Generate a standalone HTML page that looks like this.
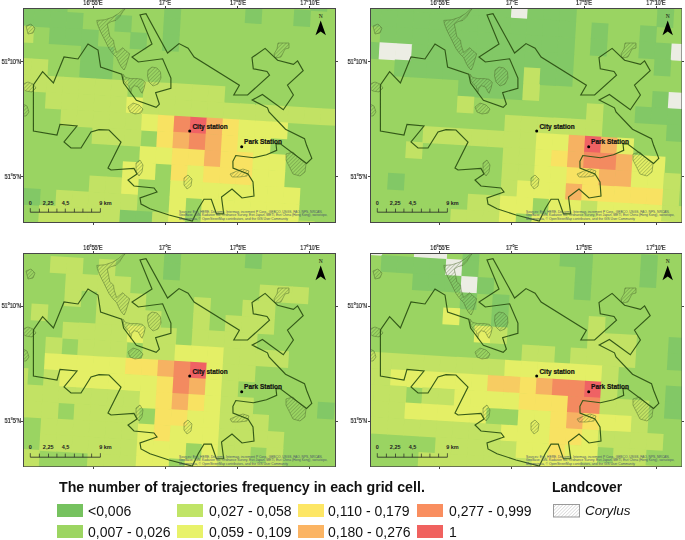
<!DOCTYPE html>
<html><head><meta charset="utf-8"><style>
html,body{margin:0;padding:0;background:#fff;width:685px;height:540px;overflow:hidden;position:relative;font-family:"Liberation Sans",sans-serif}
.tl,.lt,.lx{will-change:transform}
.map{position:absolute;overflow:hidden}
.tk{position:absolute;background:#444}
.tl{position:absolute;font-size:6.4px;line-height:8px;color:#1a1a1a;white-space:nowrap;-webkit-text-stroke:0.2px #1a1a1a}
.lt{position:absolute;font-size:13px;font-weight:bold;color:#111;white-space:nowrap;line-height:16px}
.lx{position:absolute;font-size:14px;color:#111;white-space:nowrap;line-height:16px}
.sw{position:absolute;width:26px;height:12.8px}
</style></head><body>
<div class="map" style="left:23px;top:8px;width:313px;height:215px"><svg width="313" height="215" viewBox="0 0 313 215" style="position:absolute;left:0;top:0"><rect x="0" y="0" width="313" height="215" fill="#9ad462"/>
<g transform="translate(151.6,108.0) rotate(3.39)">
<rect x="129.30" y="-129.90" width="16.80" height="16.80" fill="#82c866"/>
<rect x="-178.50" y="-113.70" width="16.80" height="16.80" fill="#82c866"/>
<rect x="-162.30" y="-113.70" width="16.80" height="16.80" fill="#82c866"/>
<rect x="-146.10" y="-113.70" width="16.80" height="16.80" fill="#82c866"/>
<rect x="-129.90" y="-113.70" width="16.80" height="16.80" fill="#82c866"/>
<rect x="-16.50" y="-113.70" width="16.80" height="16.80" fill="#82c866"/>
<rect x="64.50" y="-113.70" width="16.80" height="16.80" fill="#82c866"/>
<rect x="113.10" y="-113.70" width="16.80" height="16.80" fill="#82c866"/>
<rect x="-178.50" y="-97.50" width="16.80" height="16.80" fill="#82c866"/>
<rect x="-162.30" y="-97.50" width="16.80" height="16.80" fill="#82c866"/>
<rect x="-146.10" y="-97.50" width="16.80" height="16.80" fill="#82c866"/>
<rect x="-129.90" y="-97.50" width="16.80" height="16.80" fill="#82c866"/>
<rect x="-113.70" y="-97.50" width="16.80" height="16.80" fill="#82c866"/>
<rect x="-65.10" y="-97.50" width="16.80" height="16.80" fill="#82c866"/>
<rect x="-16.50" y="-97.50" width="16.80" height="16.80" fill="#82c866"/>
<rect x="-178.50" y="-81.30" width="16.80" height="16.80" fill="#c2e264"/>
<rect x="-162.30" y="-81.30" width="16.80" height="16.80" fill="#c2e264"/>
<rect x="-129.90" y="-81.30" width="16.80" height="16.80" fill="#82c866"/>
<rect x="-113.70" y="-81.30" width="16.80" height="16.80" fill="#82c866"/>
<rect x="-97.50" y="-81.30" width="16.80" height="16.80" fill="#82c866"/>
<rect x="-48.90" y="-81.30" width="16.80" height="16.80" fill="#82c866"/>
<rect x="-16.50" y="-81.30" width="16.80" height="16.80" fill="#82c866"/>
<rect x="-97.50" y="-65.10" width="16.80" height="16.80" fill="#82c866"/>
<rect x="-81.30" y="-65.10" width="16.80" height="16.80" fill="#82c866"/>
<rect x="-178.50" y="-48.90" width="16.80" height="16.80" fill="#c2e264"/>
<rect x="-162.30" y="-48.90" width="16.80" height="16.80" fill="#c2e264"/>
<rect x="-146.10" y="-48.90" width="16.80" height="16.80" fill="#c2e264"/>
<rect x="-97.50" y="-48.90" width="16.80" height="16.80" fill="#82c866"/>
<rect x="-81.30" y="-48.90" width="16.80" height="16.80" fill="#82c866"/>
<rect x="-178.50" y="-32.70" width="16.80" height="16.80" fill="#c2e264"/>
<rect x="-162.30" y="-32.70" width="16.80" height="16.80" fill="#c2e264"/>
<rect x="-146.10" y="-32.70" width="16.80" height="16.80" fill="#c2e264"/>
<rect x="-129.90" y="-32.70" width="16.80" height="16.80" fill="#c2e264"/>
<rect x="-113.70" y="-32.70" width="16.80" height="16.80" fill="#c2e264"/>
<rect x="-97.50" y="-32.70" width="16.80" height="16.80" fill="#c2e264"/>
<rect x="-81.30" y="-32.70" width="16.80" height="16.80" fill="#c2e264"/>
<rect x="-65.10" y="-32.70" width="16.80" height="16.80" fill="#c2e264"/>
<rect x="-32.70" y="-32.70" width="16.80" height="16.80" fill="#c2e264"/>
<rect x="-16.50" y="-32.70" width="16.80" height="16.80" fill="#c2e264"/>
<rect x="-0.30" y="-32.70" width="16.80" height="16.80" fill="#c2e264"/>
<rect x="15.90" y="-32.70" width="16.80" height="16.80" fill="#c2e264"/>
<rect x="32.10" y="-32.70" width="16.80" height="16.80" fill="#c2e264"/>
<rect x="-129.90" y="-16.50" width="16.80" height="16.80" fill="#c2e264"/>
<rect x="-113.70" y="-16.50" width="16.80" height="16.80" fill="#c2e264"/>
<rect x="-97.50" y="-16.50" width="16.80" height="16.80" fill="#c2e264"/>
<rect x="-81.30" y="-16.50" width="16.80" height="16.80" fill="#c2e264"/>
<rect x="-65.10" y="-16.50" width="16.80" height="16.80" fill="#c2e264"/>
<rect x="-48.90" y="-16.50" width="16.80" height="16.80" fill="#e4ef66"/>
<rect x="-32.70" y="-16.50" width="16.80" height="16.80" fill="#c2e264"/>
<rect x="-16.50" y="-16.50" width="16.80" height="16.80" fill="#c2e264"/>
<rect x="-0.30" y="-16.50" width="16.80" height="16.80" fill="#c2e264"/>
<rect x="15.90" y="-16.50" width="16.80" height="16.80" fill="#c2e264"/>
<rect x="32.10" y="-16.50" width="16.80" height="16.80" fill="#c2e264"/>
<rect x="48.30" y="-16.50" width="16.80" height="16.80" fill="#c2e264"/>
<rect x="64.50" y="-16.50" width="16.80" height="16.80" fill="#c2e264"/>
<rect x="80.70" y="-16.50" width="16.80" height="16.80" fill="#c2e264"/>
<rect x="96.90" y="-16.50" width="16.80" height="16.80" fill="#c2e264"/>
<rect x="113.10" y="-16.50" width="16.80" height="16.80" fill="#c2e264"/>
<rect x="129.30" y="-16.50" width="16.80" height="16.80" fill="#c2e264"/>
<rect x="145.50" y="-16.50" width="16.80" height="16.80" fill="#c2e264"/>
<rect x="161.70" y="-16.50" width="16.80" height="16.80" fill="#c2e264"/>
<rect x="-113.70" y="-0.30" width="16.80" height="16.80" fill="#c2e264"/>
<rect x="-97.50" y="-0.30" width="16.80" height="16.80" fill="#c2e264"/>
<rect x="-81.30" y="-0.30" width="16.80" height="16.80" fill="#c2e264"/>
<rect x="-65.10" y="-0.30" width="16.80" height="16.80" fill="#c2e264"/>
<rect x="-48.90" y="-0.30" width="16.80" height="16.80" fill="#c2e264"/>
<rect x="-32.70" y="-0.30" width="16.80" height="16.80" fill="#e4ef66"/>
<rect x="-16.50" y="-0.30" width="16.80" height="16.80" fill="#f8e262"/>
<rect x="-0.30" y="-0.30" width="16.80" height="16.80" fill="#f38a60"/>
<rect x="15.90" y="-0.30" width="16.80" height="16.80" fill="#ef6264"/>
<rect x="32.10" y="-0.30" width="16.80" height="16.80" fill="#f6b262"/>
<rect x="48.30" y="-0.30" width="16.80" height="16.80" fill="#f8e262"/>
<rect x="64.50" y="-0.30" width="16.80" height="16.80" fill="#e4ef66"/>
<rect x="80.70" y="-0.30" width="16.80" height="16.80" fill="#e4ef66"/>
<rect x="96.90" y="-0.30" width="16.80" height="16.80" fill="#e4ef66"/>
<rect x="-81.30" y="15.90" width="16.80" height="16.80" fill="#c2e264"/>
<rect x="-65.10" y="15.90" width="16.80" height="16.80" fill="#c2e264"/>
<rect x="-48.90" y="15.90" width="16.80" height="16.80" fill="#c2e264"/>
<rect x="-16.50" y="15.90" width="16.80" height="16.80" fill="#f8e262"/>
<rect x="-0.30" y="15.90" width="16.80" height="16.80" fill="#f6b262"/>
<rect x="15.90" y="15.90" width="16.80" height="16.80" fill="#f38a60"/>
<rect x="32.10" y="15.90" width="16.80" height="16.80" fill="#f6b262"/>
<rect x="48.30" y="15.90" width="16.80" height="16.80" fill="#f8e262"/>
<rect x="64.50" y="15.90" width="16.80" height="16.80" fill="#e4ef66"/>
<rect x="80.70" y="15.90" width="16.80" height="16.80" fill="#e4ef66"/>
<rect x="-32.70" y="32.10" width="16.80" height="16.80" fill="#e4ef66"/>
<rect x="-16.50" y="32.10" width="16.80" height="16.80" fill="#e4ef66"/>
<rect x="-0.30" y="32.10" width="16.80" height="16.80" fill="#f8e262"/>
<rect x="15.90" y="32.10" width="16.80" height="16.80" fill="#f8e262"/>
<rect x="32.10" y="32.10" width="16.80" height="16.80" fill="#f6b262"/>
<rect x="48.30" y="32.10" width="16.80" height="16.80" fill="#f8e262"/>
<rect x="64.50" y="32.10" width="16.80" height="16.80" fill="#f8e262"/>
<rect x="80.70" y="32.10" width="16.80" height="16.80" fill="#e4ef66"/>
<rect x="96.90" y="32.10" width="16.80" height="16.80" fill="#e4ef66"/>
<rect x="-48.90" y="48.30" width="16.80" height="16.80" fill="#e4ef66"/>
<rect x="-32.70" y="48.30" width="16.80" height="16.80" fill="#e4ef66"/>
<rect x="-0.30" y="48.30" width="16.80" height="16.80" fill="#f8e262"/>
<rect x="15.90" y="48.30" width="16.80" height="16.80" fill="#e4ef66"/>
<rect x="32.10" y="48.30" width="16.80" height="16.80" fill="#f8e262"/>
<rect x="48.30" y="48.30" width="16.80" height="16.80" fill="#f8e262"/>
<rect x="64.50" y="48.30" width="16.80" height="16.80" fill="#f8e262"/>
<rect x="80.70" y="48.30" width="16.80" height="16.80" fill="#e4ef66"/>
<rect x="96.90" y="48.30" width="16.80" height="16.80" fill="#e4ef66"/>
<rect x="-81.30" y="64.50" width="16.80" height="16.80" fill="#c2e264"/>
<rect x="-65.10" y="64.50" width="16.80" height="16.80" fill="#c2e264"/>
<rect x="-48.90" y="64.50" width="16.80" height="16.80" fill="#e4ef66"/>
<rect x="-0.30" y="64.50" width="16.80" height="16.80" fill="#e4ef66"/>
<rect x="15.90" y="64.50" width="16.80" height="16.80" fill="#e4ef66"/>
<rect x="32.10" y="64.50" width="16.80" height="16.80" fill="#e4ef66"/>
<rect x="48.30" y="64.50" width="16.80" height="16.80" fill="#e4ef66"/>
<rect x="64.50" y="64.50" width="16.80" height="16.80" fill="#e4ef66"/>
<rect x="80.70" y="64.50" width="16.80" height="16.80" fill="#e4ef66"/>
<rect x="96.90" y="64.50" width="16.80" height="16.80" fill="#e4ef66"/>
<rect x="113.10" y="64.50" width="16.80" height="16.80" fill="#e4ef66"/>
<rect x="-178.50" y="80.70" width="16.80" height="16.80" fill="#82c866"/>
<rect x="-162.30" y="80.70" width="16.80" height="16.80" fill="#82c866"/>
<rect x="-146.10" y="80.70" width="16.80" height="16.80" fill="#82c866"/>
<rect x="-113.70" y="80.70" width="16.80" height="16.80" fill="#c2e264"/>
<rect x="-97.50" y="80.70" width="16.80" height="16.80" fill="#c2e264"/>
<rect x="-81.30" y="80.70" width="16.80" height="16.80" fill="#c2e264"/>
<rect x="-65.10" y="80.70" width="16.80" height="16.80" fill="#c2e264"/>
<rect x="-48.90" y="80.70" width="16.80" height="16.80" fill="#c2e264"/>
<rect x="-0.30" y="80.70" width="16.80" height="16.80" fill="#e4ef66"/>
<rect x="32.10" y="80.70" width="16.80" height="16.80" fill="#e4ef66"/>
<rect x="48.30" y="80.70" width="16.80" height="16.80" fill="#e4ef66"/>
<rect x="64.50" y="80.70" width="16.80" height="16.80" fill="#e4ef66"/>
<rect x="80.70" y="80.70" width="16.80" height="16.80" fill="#e4ef66"/>
<rect x="96.90" y="80.70" width="16.80" height="16.80" fill="#e4ef66"/>
<rect x="113.10" y="80.70" width="16.80" height="16.80" fill="#e4ef66"/>
<rect x="-129.90" y="96.90" width="16.80" height="16.80" fill="#c2e264"/>
<rect x="-113.70" y="96.90" width="16.80" height="16.80" fill="#c2e264"/>
<rect x="-97.50" y="96.90" width="16.80" height="16.80" fill="#c2e264"/>
<rect x="-81.30" y="96.90" width="16.80" height="16.80" fill="#c2e264"/>
<rect x="-65.10" y="96.90" width="16.80" height="16.80" fill="#c2e264"/>
<rect x="-48.90" y="96.90" width="16.80" height="16.80" fill="#82c866"/>
<rect x="-32.70" y="96.90" width="16.80" height="16.80" fill="#82c866"/>
<rect x="-16.50" y="96.90" width="16.80" height="16.80" fill="#c2e264"/>
<rect x="-0.30" y="96.90" width="16.80" height="16.80" fill="#e4ef66"/>
<rect x="32.10" y="96.90" width="16.80" height="16.80" fill="#e4ef66"/>
<rect x="48.30" y="96.90" width="16.80" height="16.80" fill="#e4ef66"/>
<rect x="64.50" y="96.90" width="16.80" height="16.80" fill="#e4ef66"/>
<rect x="80.70" y="96.90" width="16.80" height="16.80" fill="#e4ef66"/>
<rect x="96.90" y="96.90" width="16.80" height="16.80" fill="#e4ef66"/>
<rect x="113.10" y="96.90" width="16.80" height="16.80" fill="#e4ef66"/>
<rect x="129.30" y="96.90" width="16.80" height="16.80" fill="#c2e264"/>
<rect x="-129.90" y="113.10" width="16.80" height="16.80" fill="#c2e264"/>
<rect x="-113.70" y="113.10" width="16.80" height="16.80" fill="#c2e264"/>
<rect x="-97.50" y="113.10" width="16.80" height="16.80" fill="#c2e264"/>
<rect x="-81.30" y="113.10" width="16.80" height="16.80" fill="#c2e264"/>
<rect x="-65.10" y="113.10" width="16.80" height="16.80" fill="#c2e264"/>
<rect x="-48.90" y="113.10" width="16.80" height="16.80" fill="#82c866"/>
<rect x="-32.70" y="113.10" width="16.80" height="16.80" fill="#82c866"/>
<rect x="-16.50" y="113.10" width="16.80" height="16.80" fill="#c2e264"/>
<rect x="-0.30" y="113.10" width="16.80" height="16.80" fill="#e4ef66"/>
<rect x="32.10" y="113.10" width="16.80" height="16.80" fill="#e4ef66"/>
<rect x="48.30" y="113.10" width="16.80" height="16.80" fill="#e4ef66"/>
<rect x="64.50" y="113.10" width="16.80" height="16.80" fill="#e4ef66"/>
<rect x="80.70" y="113.10" width="16.80" height="16.80" fill="#e4ef66"/>
<rect x="96.90" y="113.10" width="16.80" height="16.80" fill="#e4ef66"/>
<rect x="113.10" y="113.10" width="16.80" height="16.80" fill="#e4ef66"/>
</g><defs><pattern id="htTL" width="2.6" height="2.6" patternUnits="userSpaceOnUse" patternTransform="rotate(45)"><line x1="0" y1="0" x2="0" y2="2.6" stroke="#44602a" stroke-width="0.7" stroke-opacity="0.8"/></pattern></defs>
<polygon points="100.5,1.2 95.5,5.6 89.3,9.3 81.9,11.8 73.8,12.4 74.4,16.1 76.9,22.3 80.6,29.7 83.7,35.9 86.2,40.9 89.9,45.8 93.6,49.6 96.1,55.1 98.6,59.5 101.1,62 102.9,58.2 104.8,52 106.7,45.8 102.9,42.8 99.8,39.7 96.7,42.1 93.6,44.6 91.2,37.2 90.5,32.2 86.8,28.5 85.6,22.3 84.3,16.1 88.1,13.6 93,12.4 96.7,8.7 99.8,3.7 102,1" fill="url(#htTL)" stroke="#4d6b2e" stroke-width="0.6" stroke-opacity="0.8"/>
<polygon points="125,62 129,59 134,60 137.5,64 138,70 135,76 130,78 126,74 124.5,68" fill="url(#htTL)" stroke="#4d6b2e" stroke-width="0.6" stroke-opacity="0.8"/>
<polygon points="100,66.2 102.5,69.4 107.7,70.6 114,70.6 119.1,71.3 122.3,74.5 121.1,80.2 119.1,85.3 117.9,84 115.3,78.9 111.5,77.7 108.9,80.2 107.7,85.3 106.4,78.9 103.2,75.7 100.6,72.5" fill="url(#htTL)" stroke="#4d6b2e" stroke-width="0.6" stroke-opacity="0.8"/>
<polygon points="105,99 110,95 116,97 120,101 118,105 112,106 107,104" fill="url(#htTL)" stroke="#4d6b2e" stroke-width="0.6" stroke-opacity="0.8"/>
<polygon points="0,76 5,74 10,76 13,80 9,84 3,83 0,81" fill="url(#htTL)" stroke="#4d6b2e" stroke-width="0.6" stroke-opacity="0.8"/>
<polygon points="0,96 4,98 6,104 3,108 0,108" fill="url(#htTL)" stroke="#4d6b2e" stroke-width="0.6" stroke-opacity="0.8"/>
<polygon points="255,35 266,35 266,40 262,41 258,49 252,50 251,46 254,41" fill="url(#htTL)" stroke="#4d6b2e" stroke-width="0.6" stroke-opacity="0.8"/>
<polygon points="263,146 270,144 276,150 283,156 282,164 277,168 270,166 266,158 263,152" fill="url(#htTL)" stroke="#4d6b2e" stroke-width="0.6" stroke-opacity="0.8"/>
<polygon points="207,166 214,163 220,161 226,163 224,168 216,169 209,169" fill="url(#htTL)" stroke="#4d6b2e" stroke-width="0.6" stroke-opacity="0.8"/>
<polygon points="161,170 165,167 169,171 168,178 164,181 161,177" fill="url(#htTL)" stroke="#4d6b2e" stroke-width="0.6" stroke-opacity="0.8"/>
<polygon points="113,155 117,152 120,157 119,164 116,168 113,163" fill="url(#htTL)" stroke="#4d6b2e" stroke-width="0.6" stroke-opacity="0.8"/>
<polygon points="3,18 8,16 12,20 10,25 5,26" fill="url(#htTL)" stroke="#4d6b2e" stroke-width="0.6" stroke-opacity="0.8"/>
<polygon points="10.4,123 10.4,77 19.6,63.6 30.4,75 41,49 55,51 65,36 75,42 77.6,59 98.7,66.2 100.6,75.1 113.4,92.3 133.2,99.4 136.4,96.2 132.6,84.7 147.9,80.2 147.9,70 139.6,50.8 115.3,54 109,49 129,36 117,7 123,5.6 144.6,45 156,35.6 165.1,40.2 171.1,49.1 216.4,77.3 210.8,87 224.6,87 246.5,67.1 244,63.5 230.3,60.8 229,49.6 242.1,40.4 254.6,52.2 270.4,56.4 274.6,52.9 280.2,62.7 264.5,77.2 270.4,87 260.3,101.8 239.4,86.5 229.2,92.1 244.5,99.8 246,103.9 262.5,121.2 281.5,130.7 283.6,137.3 288.8,150.4 283.6,155.5 257.4,135.8 253,135.8 253.7,142.4 243.5,146.7 230.4,149.7 212.8,147.5 209.9,153.3 210,160 225,166 230,174 231,188 219,190 209,181 198.5,189 200.7,205.8 193.4,205.8 188.3,191.2 181,191.2 175.2,200.7 169.3,213.1 146,207 127,200.7 118,196 117,190 134,184 131,180 111,178 105,172 114,166 111,160.4 88,162 85,160 98,134 86,122 76,121.6 68,124 58,140 48,140 41,134 54,118 37,116.4 34,127" fill="none" stroke="#2d5214" stroke-width="1.15" stroke-linejoin="miter" stroke-opacity="0.95"/>
<circle cx="166.7" cy="123.1" r="1.5" fill="#000"/>
<text x="169.4" y="121.2" font-family="Liberation Sans" font-weight="bold" font-size="6.5" fill="#111" stroke="#111" stroke-width="0.2">City station</text>
<circle cx="218.7" cy="138.7" r="1.5" fill="#000"/>
<text x="221.1" y="135.9" font-family="Liberation Sans" font-weight="bold" font-size="6.5" fill="#111" stroke="#111" stroke-width="0.2">Park Station</text>
<text x="297.7" y="10.2" font-family="Liberation Serif" font-size="5.5" text-anchor="middle" fill="#111">N</text>
<polygon points="297.7,12.6 302.9,27.3 297.7,23.6 292.5,27.3" fill="#000"/>
<line x1="7.3" y1="204.2" x2="77.4" y2="204.2" stroke="#222" stroke-width="0.8"/>
<line x1="7.3" y1="200.2" x2="7.3" y2="204.2" stroke="#222" stroke-width="0.7"/>
<line x1="16.4" y1="200.6" x2="16.4" y2="204.2" stroke="#222" stroke-width="0.7"/>
<line x1="25.5" y1="200.6" x2="25.5" y2="204.2" stroke="#222" stroke-width="0.7"/>
<line x1="33.9" y1="200.6" x2="33.9" y2="204.2" stroke="#222" stroke-width="0.7"/>
<line x1="42.3" y1="200.6" x2="42.3" y2="204.2" stroke="#222" stroke-width="0.7"/>
<line x1="51.4" y1="200.6" x2="51.4" y2="204.2" stroke="#222" stroke-width="0.7"/>
<line x1="59.9" y1="200.6" x2="59.9" y2="204.2" stroke="#222" stroke-width="0.7"/>
<line x1="68.6" y1="200.6" x2="68.6" y2="204.2" stroke="#222" stroke-width="0.7"/>
<line x1="77.4" y1="200.2" x2="77.4" y2="204.2" stroke="#222" stroke-width="0.7"/>
<text x="7.4" y="196.5" font-family="Liberation Sans" font-weight="bold" font-size="5.5" text-anchor="middle" fill="#222">0</text>
<text x="25.2" y="196.5" font-family="Liberation Sans" font-weight="bold" font-size="5.5" text-anchor="middle" fill="#222">2,25</text>
<text x="42.5" y="196.5" font-family="Liberation Sans" font-weight="bold" font-size="5.5" text-anchor="middle" fill="#222">4,5</text>
<text x="76.2" y="196.5" font-family="Liberation Sans" font-weight="bold" font-size="5.5" fill="#222">9 km</text>
<text x="156" y="204.6" font-family="Liberation Sans" font-size="3.1" fill="#4a5a6a" textLength="143.5" lengthAdjust="spacingAndGlyphs">Sources: Esri, HERE, DeLorme, Intermap, increment P Corp., GEBCO, USGS, FAO, NPS, NRCAN,</text>
<text x="156" y="208.3" font-family="Liberation Sans" font-size="3.1" fill="#4a5a6a" textLength="148.5" lengthAdjust="spacingAndGlyphs">GeoBase, IGN, Kadaster NL, Ordnance Survey, Esri Japan, METI, Esri China (Hong Kong), swisstopo,</text>
<text x="156" y="212.1" font-family="Liberation Sans" font-size="3.1" fill="#4a5a6a" textLength="109" lengthAdjust="spacingAndGlyphs">Mapmyindia, &#169; OpenStreetMap contributors, and the GIS User Community</text><rect x="0.5" y="0.5" width="312" height="214" fill="none" stroke="#474747" stroke-width="1"/></svg></div><div class="map" style="left:369.5px;top:8px;width:312.5px;height:215px"><svg width="312.5" height="215" viewBox="0 0 312.5 215" style="position:absolute;left:0;top:0"><rect x="0" y="0" width="312.5" height="215" fill="#9ad462"/>
<g transform="translate(151.6,108.0) rotate(3.39)">
<rect x="129.30" y="-129.90" width="16.80" height="16.80" fill="#82c866"/>
<rect x="-178.50" y="-113.70" width="16.80" height="16.80" fill="#82c866"/>
<rect x="-162.30" y="-113.70" width="16.80" height="16.80" fill="#82c866"/>
<rect x="-146.10" y="-113.70" width="16.80" height="16.80" fill="#82c866"/>
<rect x="-129.90" y="-113.70" width="16.80" height="16.80" fill="#82c866"/>
<rect x="-113.70" y="-113.70" width="16.80" height="16.80" fill="#82c866"/>
<rect x="-97.50" y="-113.70" width="16.80" height="16.80" fill="#82c866"/>
<rect x="-81.30" y="-113.70" width="16.80" height="16.80" fill="#82c866"/>
<rect x="-65.10" y="-113.70" width="16.80" height="16.80" fill="#82c866"/>
<rect x="-48.90" y="-113.70" width="16.80" height="16.80" fill="#82c866"/>
<rect x="-32.70" y="-113.70" width="16.80" height="16.80" fill="#82c866"/>
<rect x="-16.50" y="-113.70" width="16.80" height="16.80" fill="#ecede4"/>
<rect x="-0.30" y="-113.70" width="16.80" height="16.80" fill="#82c866"/>
<rect x="15.90" y="-113.70" width="16.80" height="16.80" fill="#82c866"/>
<rect x="32.10" y="-113.70" width="16.80" height="16.80" fill="#82c866"/>
<rect x="129.30" y="-113.70" width="16.80" height="16.80" fill="#82c866"/>
<rect x="-178.50" y="-97.50" width="16.80" height="16.80" fill="#82c866"/>
<rect x="-162.30" y="-97.50" width="16.80" height="16.80" fill="#82c866"/>
<rect x="-146.10" y="-97.50" width="16.80" height="16.80" fill="#82c866"/>
<rect x="-129.90" y="-97.50" width="16.80" height="16.80" fill="#82c866"/>
<rect x="-113.70" y="-97.50" width="16.80" height="16.80" fill="#82c866"/>
<rect x="-97.50" y="-97.50" width="16.80" height="16.80" fill="#82c866"/>
<rect x="-81.30" y="-97.50" width="16.80" height="16.80" fill="#82c866"/>
<rect x="-65.10" y="-97.50" width="16.80" height="16.80" fill="#82c866"/>
<rect x="-48.90" y="-97.50" width="16.80" height="16.80" fill="#82c866"/>
<rect x="-32.70" y="-97.50" width="16.80" height="16.80" fill="#82c866"/>
<rect x="-16.50" y="-97.50" width="16.80" height="16.80" fill="#82c866"/>
<rect x="-0.30" y="-97.50" width="16.80" height="16.80" fill="#82c866"/>
<rect x="15.90" y="-97.50" width="16.80" height="16.80" fill="#82c866"/>
<rect x="32.10" y="-97.50" width="16.80" height="16.80" fill="#82c866"/>
<rect x="64.50" y="-97.50" width="16.80" height="16.80" fill="#82c866"/>
<rect x="113.10" y="-97.50" width="16.80" height="16.80" fill="#82c866"/>
<rect x="-146.10" y="-81.30" width="16.80" height="16.80" fill="#82c866"/>
<rect x="-129.90" y="-81.30" width="16.80" height="16.80" fill="#82c866"/>
<rect x="-113.70" y="-81.30" width="16.80" height="16.80" fill="#82c866"/>
<rect x="-97.50" y="-81.30" width="16.80" height="16.80" fill="#82c866"/>
<rect x="-81.30" y="-81.30" width="16.80" height="16.80" fill="#82c866"/>
<rect x="-65.10" y="-81.30" width="16.80" height="16.80" fill="#82c866"/>
<rect x="-48.90" y="-81.30" width="16.80" height="16.80" fill="#82c866"/>
<rect x="-32.70" y="-81.30" width="16.80" height="16.80" fill="#82c866"/>
<rect x="-16.50" y="-81.30" width="16.80" height="16.80" fill="#82c866"/>
<rect x="-0.30" y="-81.30" width="16.80" height="16.80" fill="#82c866"/>
<rect x="15.90" y="-81.30" width="16.80" height="16.80" fill="#82c866"/>
<rect x="32.10" y="-81.30" width="16.80" height="16.80" fill="#82c866"/>
<rect x="64.50" y="-81.30" width="16.80" height="16.80" fill="#82c866"/>
<rect x="113.10" y="-81.30" width="16.80" height="16.80" fill="#82c866"/>
<rect x="129.30" y="-81.30" width="16.80" height="16.80" fill="#82c866"/>
<rect x="145.50" y="-81.30" width="16.80" height="16.80" fill="#ecede4"/>
<rect x="-162.30" y="-65.10" width="16.80" height="16.80" fill="#82c866"/>
<rect x="-146.10" y="-65.10" width="16.80" height="16.80" fill="#ecede4"/>
<rect x="-129.90" y="-65.10" width="16.80" height="16.80" fill="#ecede4"/>
<rect x="-113.70" y="-65.10" width="16.80" height="16.80" fill="#82c866"/>
<rect x="-97.50" y="-65.10" width="16.80" height="16.80" fill="#82c866"/>
<rect x="-81.30" y="-65.10" width="16.80" height="16.80" fill="#82c866"/>
<rect x="-65.10" y="-65.10" width="16.80" height="16.80" fill="#82c866"/>
<rect x="-48.90" y="-65.10" width="16.80" height="16.80" fill="#82c866"/>
<rect x="-32.70" y="-65.10" width="16.80" height="16.80" fill="#82c866"/>
<rect x="-16.50" y="-65.10" width="16.80" height="16.80" fill="#82c866"/>
<rect x="-0.30" y="-65.10" width="16.80" height="16.80" fill="#82c866"/>
<rect x="15.90" y="-65.10" width="16.80" height="16.80" fill="#82c866"/>
<rect x="32.10" y="-65.10" width="16.80" height="16.80" fill="#82c866"/>
<rect x="129.30" y="-65.10" width="16.80" height="16.80" fill="#82c866"/>
<rect x="-129.90" y="-48.90" width="16.80" height="16.80" fill="#82c866"/>
<rect x="-113.70" y="-48.90" width="16.80" height="16.80" fill="#82c866"/>
<rect x="-97.50" y="-48.90" width="16.80" height="16.80" fill="#82c866"/>
<rect x="-81.30" y="-48.90" width="16.80" height="16.80" fill="#82c866"/>
<rect x="-65.10" y="-48.90" width="16.80" height="16.80" fill="#82c866"/>
<rect x="-48.90" y="-48.90" width="16.80" height="16.80" fill="#82c866"/>
<rect x="-32.70" y="-48.90" width="16.80" height="16.80" fill="#82c866"/>
<rect x="-16.50" y="-48.90" width="16.80" height="16.80" fill="#82c866"/>
<rect x="-0.30" y="-48.90" width="16.80" height="16.80" fill="#c2e264"/>
<rect x="15.90" y="-48.90" width="16.80" height="16.80" fill="#82c866"/>
<rect x="32.10" y="-48.90" width="16.80" height="16.80" fill="#82c866"/>
<rect x="-65.10" y="-32.70" width="16.80" height="16.80" fill="#82c866"/>
<rect x="-48.90" y="-32.70" width="16.80" height="16.80" fill="#82c866"/>
<rect x="-32.70" y="-32.70" width="16.80" height="16.80" fill="#82c866"/>
<rect x="-16.50" y="-32.70" width="16.80" height="16.80" fill="#82c866"/>
<rect x="-0.30" y="-32.70" width="16.80" height="16.80" fill="#c2e264"/>
<rect x="129.30" y="-32.70" width="16.80" height="16.80" fill="#82c866"/>
<rect x="145.50" y="-32.70" width="16.80" height="16.80" fill="#ecede4"/>
<rect x="-65.10" y="-16.50" width="16.80" height="16.80" fill="#c2e264"/>
<rect x="64.50" y="-16.50" width="16.80" height="16.80" fill="#c2e264"/>
<rect x="113.10" y="-16.50" width="16.80" height="16.80" fill="#82c866"/>
<rect x="129.30" y="-16.50" width="16.80" height="16.80" fill="#82c866"/>
<rect x="145.50" y="-16.50" width="16.80" height="16.80" fill="#82c866"/>
<rect x="161.70" y="-16.50" width="16.80" height="16.80" fill="#82c866"/>
<rect x="-16.50" y="-0.30" width="16.80" height="16.80" fill="#c2e264"/>
<rect x="-0.30" y="-0.30" width="16.80" height="16.80" fill="#c2e264"/>
<rect x="15.90" y="-0.30" width="16.80" height="16.80" fill="#c2e264"/>
<rect x="32.10" y="-0.30" width="16.80" height="16.80" fill="#c2e264"/>
<rect x="48.30" y="-0.30" width="16.80" height="16.80" fill="#c2e264"/>
<rect x="64.50" y="-0.30" width="16.80" height="16.80" fill="#c2e264"/>
<rect x="145.50" y="-0.30" width="16.80" height="16.80" fill="#82c866"/>
<rect x="161.70" y="-0.30" width="16.80" height="16.80" fill="#82c866"/>
<rect x="-97.50" y="15.90" width="16.80" height="16.80" fill="#c2e264"/>
<rect x="-81.30" y="15.90" width="16.80" height="16.80" fill="#c2e264"/>
<rect x="-65.10" y="15.90" width="16.80" height="16.80" fill="#c2e264"/>
<rect x="-48.90" y="15.90" width="16.80" height="16.80" fill="#c2e264"/>
<rect x="-32.70" y="15.90" width="16.80" height="16.80" fill="#c2e264"/>
<rect x="-16.50" y="15.90" width="16.80" height="16.80" fill="#c2e264"/>
<rect x="-0.30" y="15.90" width="16.80" height="16.80" fill="#c2e264"/>
<rect x="15.90" y="15.90" width="16.80" height="16.80" fill="#e4ef66"/>
<rect x="32.10" y="15.90" width="16.80" height="16.80" fill="#e4ef66"/>
<rect x="48.30" y="15.90" width="16.80" height="16.80" fill="#f6b262"/>
<rect x="64.50" y="15.90" width="16.80" height="16.80" fill="#ef6264"/>
<rect x="80.70" y="15.90" width="16.80" height="16.80" fill="#f6b262"/>
<rect x="96.90" y="15.90" width="16.80" height="16.80" fill="#e4ef66"/>
<rect x="-113.70" y="32.10" width="16.80" height="16.80" fill="#c2e264"/>
<rect x="-16.50" y="32.10" width="16.80" height="16.80" fill="#c2e264"/>
<rect x="-0.30" y="32.10" width="16.80" height="16.80" fill="#c2e264"/>
<rect x="15.90" y="32.10" width="16.80" height="16.80" fill="#e4ef66"/>
<rect x="32.10" y="32.10" width="16.80" height="16.80" fill="#f8e262"/>
<rect x="48.30" y="32.10" width="16.80" height="16.80" fill="#f6b262"/>
<rect x="64.50" y="32.10" width="16.80" height="16.80" fill="#f38a60"/>
<rect x="80.70" y="32.10" width="16.80" height="16.80" fill="#f38a60"/>
<rect x="96.90" y="32.10" width="16.80" height="16.80" fill="#f6b262"/>
<rect x="113.10" y="32.10" width="16.80" height="16.80" fill="#e4ef66"/>
<rect x="129.30" y="32.10" width="16.80" height="16.80" fill="#e4ef66"/>
<rect x="-16.50" y="48.30" width="16.80" height="16.80" fill="#c2e264"/>
<rect x="-0.30" y="48.30" width="16.80" height="16.80" fill="#c2e264"/>
<rect x="15.90" y="48.30" width="16.80" height="16.80" fill="#e4ef66"/>
<rect x="32.10" y="48.30" width="16.80" height="16.80" fill="#e4ef66"/>
<rect x="48.30" y="48.30" width="16.80" height="16.80" fill="#f8e262"/>
<rect x="64.50" y="48.30" width="16.80" height="16.80" fill="#f8e262"/>
<rect x="80.70" y="48.30" width="16.80" height="16.80" fill="#f6b262"/>
<rect x="96.90" y="48.30" width="16.80" height="16.80" fill="#f6b262"/>
<rect x="113.10" y="48.30" width="16.80" height="16.80" fill="#e4ef66"/>
<rect x="129.30" y="48.30" width="16.80" height="16.80" fill="#e4ef66"/>
<rect x="145.50" y="48.30" width="16.80" height="16.80" fill="#c2e264"/>
<rect x="-129.90" y="64.50" width="16.80" height="16.80" fill="#82c866"/>
<rect x="-16.50" y="64.50" width="16.80" height="16.80" fill="#c2e264"/>
<rect x="-0.30" y="64.50" width="16.80" height="16.80" fill="#e4ef66"/>
<rect x="15.90" y="64.50" width="16.80" height="16.80" fill="#e4ef66"/>
<rect x="32.10" y="64.50" width="16.80" height="16.80" fill="#e4ef66"/>
<rect x="48.30" y="64.50" width="16.80" height="16.80" fill="#f6b262"/>
<rect x="64.50" y="64.50" width="16.80" height="16.80" fill="#f8e262"/>
<rect x="80.70" y="64.50" width="16.80" height="16.80" fill="#f8e262"/>
<rect x="96.90" y="64.50" width="16.80" height="16.80" fill="#f8e262"/>
<rect x="113.10" y="64.50" width="16.80" height="16.80" fill="#f8e262"/>
<rect x="129.30" y="64.50" width="16.80" height="16.80" fill="#f8e262"/>
<rect x="145.50" y="64.50" width="16.80" height="16.80" fill="#c2e264"/>
<rect x="-48.90" y="80.70" width="16.80" height="16.80" fill="#c2e264"/>
<rect x="-32.70" y="80.70" width="16.80" height="16.80" fill="#c2e264"/>
<rect x="-16.50" y="80.70" width="16.80" height="16.80" fill="#e4ef66"/>
<rect x="-0.30" y="80.70" width="16.80" height="16.80" fill="#e4ef66"/>
<rect x="32.10" y="80.70" width="16.80" height="16.80" fill="#e4ef66"/>
<rect x="48.30" y="80.70" width="16.80" height="16.80" fill="#e4ef66"/>
<rect x="64.50" y="80.70" width="16.80" height="16.80" fill="#c2e264"/>
<rect x="80.70" y="80.70" width="16.80" height="16.80" fill="#e4ef66"/>
<rect x="96.90" y="80.70" width="16.80" height="16.80" fill="#e4ef66"/>
<rect x="113.10" y="80.70" width="16.80" height="16.80" fill="#e4ef66"/>
<rect x="129.30" y="80.70" width="16.80" height="16.80" fill="#e4ef66"/>
<rect x="145.50" y="80.70" width="16.80" height="16.80" fill="#c2e264"/>
<rect x="161.70" y="80.70" width="16.80" height="16.80" fill="#c2e264"/>
<rect x="-65.10" y="96.90" width="16.80" height="16.80" fill="#c2e264"/>
<rect x="-48.90" y="96.90" width="16.80" height="16.80" fill="#c2e264"/>
<rect x="-32.70" y="96.90" width="16.80" height="16.80" fill="#c2e264"/>
<rect x="-16.50" y="96.90" width="16.80" height="16.80" fill="#e4ef66"/>
<rect x="15.90" y="96.90" width="16.80" height="16.80" fill="#e4ef66"/>
<rect x="32.10" y="96.90" width="16.80" height="16.80" fill="#e4ef66"/>
<rect x="48.30" y="96.90" width="16.80" height="16.80" fill="#e4ef66"/>
<rect x="64.50" y="96.90" width="16.80" height="16.80" fill="#e4ef66"/>
<rect x="80.70" y="96.90" width="16.80" height="16.80" fill="#e4ef66"/>
<rect x="96.90" y="96.90" width="16.80" height="16.80" fill="#e4ef66"/>
<rect x="113.10" y="96.90" width="16.80" height="16.80" fill="#e4ef66"/>
<rect x="129.30" y="96.90" width="16.80" height="16.80" fill="#e4ef66"/>
<rect x="145.50" y="96.90" width="16.80" height="16.80" fill="#e4ef66"/>
<rect x="-65.10" y="113.10" width="16.80" height="16.80" fill="#c2e264"/>
<rect x="-48.90" y="113.10" width="16.80" height="16.80" fill="#c2e264"/>
<rect x="-32.70" y="113.10" width="16.80" height="16.80" fill="#c2e264"/>
<rect x="-16.50" y="113.10" width="16.80" height="16.80" fill="#e4ef66"/>
<rect x="15.90" y="113.10" width="16.80" height="16.80" fill="#e4ef66"/>
<rect x="32.10" y="113.10" width="16.80" height="16.80" fill="#e4ef66"/>
<rect x="48.30" y="113.10" width="16.80" height="16.80" fill="#e4ef66"/>
<rect x="64.50" y="113.10" width="16.80" height="16.80" fill="#e4ef66"/>
<rect x="80.70" y="113.10" width="16.80" height="16.80" fill="#e4ef66"/>
<rect x="96.90" y="113.10" width="16.80" height="16.80" fill="#e4ef66"/>
<rect x="113.10" y="113.10" width="16.80" height="16.80" fill="#e4ef66"/>
<rect x="129.30" y="113.10" width="16.80" height="16.80" fill="#e4ef66"/>
<rect x="145.50" y="113.10" width="16.80" height="16.80" fill="#e4ef66"/>
</g><defs><pattern id="htTR" width="2.6" height="2.6" patternUnits="userSpaceOnUse" patternTransform="rotate(45)"><line x1="0" y1="0" x2="0" y2="2.6" stroke="#44602a" stroke-width="0.7" stroke-opacity="0.8"/></pattern></defs>
<polygon points="100.5,1.2 95.5,5.6 89.3,9.3 81.9,11.8 73.8,12.4 74.4,16.1 76.9,22.3 80.6,29.7 83.7,35.9 86.2,40.9 89.9,45.8 93.6,49.6 96.1,55.1 98.6,59.5 101.1,62 102.9,58.2 104.8,52 106.7,45.8 102.9,42.8 99.8,39.7 96.7,42.1 93.6,44.6 91.2,37.2 90.5,32.2 86.8,28.5 85.6,22.3 84.3,16.1 88.1,13.6 93,12.4 96.7,8.7 99.8,3.7 102,1" fill="url(#htTR)" stroke="#4d6b2e" stroke-width="0.6" stroke-opacity="0.8"/>
<polygon points="125,62 129,59 134,60 137.5,64 138,70 135,76 130,78 126,74 124.5,68" fill="url(#htTR)" stroke="#4d6b2e" stroke-width="0.6" stroke-opacity="0.8"/>
<polygon points="100,66.2 102.5,69.4 107.7,70.6 114,70.6 119.1,71.3 122.3,74.5 121.1,80.2 119.1,85.3 117.9,84 115.3,78.9 111.5,77.7 108.9,80.2 107.7,85.3 106.4,78.9 103.2,75.7 100.6,72.5" fill="url(#htTR)" stroke="#4d6b2e" stroke-width="0.6" stroke-opacity="0.8"/>
<polygon points="105,99 110,95 116,97 120,101 118,105 112,106 107,104" fill="url(#htTR)" stroke="#4d6b2e" stroke-width="0.6" stroke-opacity="0.8"/>
<polygon points="0,76 5,74 10,76 13,80 9,84 3,83 0,81" fill="url(#htTR)" stroke="#4d6b2e" stroke-width="0.6" stroke-opacity="0.8"/>
<polygon points="0,96 4,98 6,104 3,108 0,108" fill="url(#htTR)" stroke="#4d6b2e" stroke-width="0.6" stroke-opacity="0.8"/>
<polygon points="255,35 266,35 266,40 262,41 258,49 252,50 251,46 254,41" fill="url(#htTR)" stroke="#4d6b2e" stroke-width="0.6" stroke-opacity="0.8"/>
<polygon points="263,146 270,144 276,150 283,156 282,164 277,168 270,166 266,158 263,152" fill="url(#htTR)" stroke="#4d6b2e" stroke-width="0.6" stroke-opacity="0.8"/>
<polygon points="207,166 214,163 220,161 226,163 224,168 216,169 209,169" fill="url(#htTR)" stroke="#4d6b2e" stroke-width="0.6" stroke-opacity="0.8"/>
<polygon points="161,170 165,167 169,171 168,178 164,181 161,177" fill="url(#htTR)" stroke="#4d6b2e" stroke-width="0.6" stroke-opacity="0.8"/>
<polygon points="113,155 117,152 120,157 119,164 116,168 113,163" fill="url(#htTR)" stroke="#4d6b2e" stroke-width="0.6" stroke-opacity="0.8"/>
<polygon points="3,18 8,16 12,20 10,25 5,26" fill="url(#htTR)" stroke="#4d6b2e" stroke-width="0.6" stroke-opacity="0.8"/>
<polygon points="10.4,123 10.4,77 19.6,63.6 30.4,75 41,49 55,51 65,36 75,42 77.6,59 98.7,66.2 100.6,75.1 113.4,92.3 133.2,99.4 136.4,96.2 132.6,84.7 147.9,80.2 147.9,70 139.6,50.8 115.3,54 109,49 129,36 117,7 123,5.6 144.6,45 156,35.6 165.1,40.2 171.1,49.1 216.4,77.3 210.8,87 224.6,87 246.5,67.1 244,63.5 230.3,60.8 229,49.6 242.1,40.4 254.6,52.2 270.4,56.4 274.6,52.9 280.2,62.7 264.5,77.2 270.4,87 260.3,101.8 239.4,86.5 229.2,92.1 244.5,99.8 246,103.9 262.5,121.2 281.5,130.7 283.6,137.3 288.8,150.4 283.6,155.5 257.4,135.8 253,135.8 253.7,142.4 243.5,146.7 230.4,149.7 212.8,147.5 209.9,153.3 210,160 225,166 230,174 231,188 219,190 209,181 198.5,189 200.7,205.8 193.4,205.8 188.3,191.2 181,191.2 175.2,200.7 169.3,213.1 146,207 127,200.7 118,196 117,190 134,184 131,180 111,178 105,172 114,166 111,160.4 88,162 85,160 98,134 86,122 76,121.6 68,124 58,140 48,140 41,134 54,118 37,116.4 34,127" fill="none" stroke="#2d5214" stroke-width="1.15" stroke-linejoin="miter" stroke-opacity="0.95"/>
<circle cx="166.7" cy="123.1" r="1.5" fill="#000"/>
<text x="169.4" y="121.2" font-family="Liberation Sans" font-weight="bold" font-size="6.5" fill="#111" stroke="#111" stroke-width="0.2">City station</text>
<circle cx="218.7" cy="138.7" r="1.5" fill="#000"/>
<text x="221.1" y="135.9" font-family="Liberation Sans" font-weight="bold" font-size="6.5" fill="#111" stroke="#111" stroke-width="0.2">Park Station</text>
<text x="297.7" y="10.2" font-family="Liberation Serif" font-size="5.5" text-anchor="middle" fill="#111">N</text>
<polygon points="297.7,12.6 302.9,27.3 297.7,23.6 292.5,27.3" fill="#000"/>
<line x1="7.3" y1="204.2" x2="77.4" y2="204.2" stroke="#222" stroke-width="0.8"/>
<line x1="7.3" y1="200.2" x2="7.3" y2="204.2" stroke="#222" stroke-width="0.7"/>
<line x1="16.4" y1="200.6" x2="16.4" y2="204.2" stroke="#222" stroke-width="0.7"/>
<line x1="25.5" y1="200.6" x2="25.5" y2="204.2" stroke="#222" stroke-width="0.7"/>
<line x1="33.9" y1="200.6" x2="33.9" y2="204.2" stroke="#222" stroke-width="0.7"/>
<line x1="42.3" y1="200.6" x2="42.3" y2="204.2" stroke="#222" stroke-width="0.7"/>
<line x1="51.4" y1="200.6" x2="51.4" y2="204.2" stroke="#222" stroke-width="0.7"/>
<line x1="59.9" y1="200.6" x2="59.9" y2="204.2" stroke="#222" stroke-width="0.7"/>
<line x1="68.6" y1="200.6" x2="68.6" y2="204.2" stroke="#222" stroke-width="0.7"/>
<line x1="77.4" y1="200.2" x2="77.4" y2="204.2" stroke="#222" stroke-width="0.7"/>
<text x="7.4" y="196.5" font-family="Liberation Sans" font-weight="bold" font-size="5.5" text-anchor="middle" fill="#222">0</text>
<text x="25.2" y="196.5" font-family="Liberation Sans" font-weight="bold" font-size="5.5" text-anchor="middle" fill="#222">2,25</text>
<text x="42.5" y="196.5" font-family="Liberation Sans" font-weight="bold" font-size="5.5" text-anchor="middle" fill="#222">4,5</text>
<text x="76.2" y="196.5" font-family="Liberation Sans" font-weight="bold" font-size="5.5" fill="#222">9 km</text>
<text x="156" y="204.6" font-family="Liberation Sans" font-size="3.1" fill="#4a5a6a" textLength="143.5" lengthAdjust="spacingAndGlyphs">Sources: Esri, HERE, DeLorme, Intermap, increment P Corp., GEBCO, USGS, FAO, NPS, NRCAN,</text>
<text x="156" y="208.3" font-family="Liberation Sans" font-size="3.1" fill="#4a5a6a" textLength="148.5" lengthAdjust="spacingAndGlyphs">GeoBase, IGN, Kadaster NL, Ordnance Survey, Esri Japan, METI, Esri China (Hong Kong), swisstopo,</text>
<text x="156" y="212.1" font-family="Liberation Sans" font-size="3.1" fill="#4a5a6a" textLength="109" lengthAdjust="spacingAndGlyphs">Mapmyindia, &#169; OpenStreetMap contributors, and the GIS User Community</text><rect x="0.5" y="0.5" width="311.5" height="214" fill="none" stroke="#474747" stroke-width="1"/></svg></div><div class="map" style="left:23px;top:252.7px;width:313px;height:214.3px"><svg width="313" height="214.3" viewBox="0 0 313 214.3" style="position:absolute;left:0;top:0"><rect x="0" y="0" width="313" height="214.3" fill="#9ad462"/>
<g transform="translate(151.6,108.0) rotate(3.39)">
<rect x="-16.50" y="-113.70" width="16.80" height="16.80" fill="#82c866"/>
<rect x="64.50" y="-113.70" width="16.80" height="16.80" fill="#82c866"/>
<rect x="-129.90" y="-97.50" width="16.80" height="16.80" fill="#c2e264"/>
<rect x="-113.70" y="-97.50" width="16.80" height="16.80" fill="#c2e264"/>
<rect x="-81.30" y="-97.50" width="16.80" height="16.80" fill="#c2e264"/>
<rect x="-16.50" y="-97.50" width="16.80" height="16.80" fill="#82c866"/>
<rect x="-113.70" y="-81.30" width="16.80" height="16.80" fill="#c2e264"/>
<rect x="-97.50" y="-81.30" width="16.80" height="16.80" fill="#c2e264"/>
<rect x="-81.30" y="-81.30" width="16.80" height="16.80" fill="#c2e264"/>
<rect x="-65.10" y="-81.30" width="16.80" height="16.80" fill="#c2e264"/>
<rect x="80.70" y="-81.30" width="16.80" height="16.80" fill="#c2e264"/>
<rect x="96.90" y="-81.30" width="16.80" height="16.80" fill="#c2e264"/>
<rect x="113.10" y="-81.30" width="16.80" height="16.80" fill="#c2e264"/>
<rect x="-113.70" y="-65.10" width="16.80" height="16.80" fill="#c2e264"/>
<rect x="-81.30" y="-65.10" width="16.80" height="16.80" fill="#c2e264"/>
<rect x="-65.10" y="-65.10" width="16.80" height="16.80" fill="#c2e264"/>
<rect x="-48.90" y="-65.10" width="16.80" height="16.80" fill="#c2e264"/>
<rect x="15.90" y="-65.10" width="16.80" height="16.80" fill="#c2e264"/>
<rect x="64.50" y="-65.10" width="16.80" height="16.80" fill="#c2e264"/>
<rect x="80.70" y="-65.10" width="16.80" height="16.80" fill="#c2e264"/>
<rect x="-146.10" y="-48.90" width="16.80" height="16.80" fill="#c2e264"/>
<rect x="-81.30" y="-48.90" width="16.80" height="16.80" fill="#c2e264"/>
<rect x="-65.10" y="-48.90" width="16.80" height="16.80" fill="#c2e264"/>
<rect x="-48.90" y="-48.90" width="16.80" height="16.80" fill="#c2e264"/>
<rect x="-32.70" y="-48.90" width="16.80" height="16.80" fill="#c2e264"/>
<rect x="15.90" y="-48.90" width="16.80" height="16.80" fill="#c2e264"/>
<rect x="48.30" y="-48.90" width="16.80" height="16.80" fill="#c2e264"/>
<rect x="64.50" y="-48.90" width="16.80" height="16.80" fill="#c2e264"/>
<rect x="80.70" y="-48.90" width="16.80" height="16.80" fill="#c2e264"/>
<rect x="-113.70" y="-32.70" width="16.80" height="16.80" fill="#c2e264"/>
<rect x="-97.50" y="-32.70" width="16.80" height="16.80" fill="#c2e264"/>
<rect x="-81.30" y="-32.70" width="16.80" height="16.80" fill="#c2e264"/>
<rect x="-65.10" y="-32.70" width="16.80" height="16.80" fill="#c2e264"/>
<rect x="-48.90" y="-32.70" width="16.80" height="16.80" fill="#e4ef66"/>
<rect x="-32.70" y="-32.70" width="16.80" height="16.80" fill="#c2e264"/>
<rect x="-16.50" y="-32.70" width="16.80" height="16.80" fill="#c2e264"/>
<rect x="15.90" y="-32.70" width="16.80" height="16.80" fill="#c2e264"/>
<rect x="32.10" y="-32.70" width="16.80" height="16.80" fill="#c2e264"/>
<rect x="48.30" y="-32.70" width="16.80" height="16.80" fill="#c2e264"/>
<rect x="64.50" y="-32.70" width="16.80" height="16.80" fill="#c2e264"/>
<rect x="-129.90" y="-16.50" width="16.80" height="16.80" fill="#c2e264"/>
<rect x="-97.50" y="-16.50" width="16.80" height="16.80" fill="#c2e264"/>
<rect x="-81.30" y="-16.50" width="16.80" height="16.80" fill="#c2e264"/>
<rect x="-65.10" y="-16.50" width="16.80" height="16.80" fill="#c2e264"/>
<rect x="-32.70" y="-16.50" width="16.80" height="16.80" fill="#c2e264"/>
<rect x="-16.50" y="-16.50" width="16.80" height="16.80" fill="#c2e264"/>
<rect x="-0.30" y="-16.50" width="16.80" height="16.80" fill="#e4ef66"/>
<rect x="15.90" y="-16.50" width="16.80" height="16.80" fill="#e4ef66"/>
<rect x="32.10" y="-16.50" width="16.80" height="16.80" fill="#e4ef66"/>
<rect x="48.30" y="-16.50" width="16.80" height="16.80" fill="#c2e264"/>
<rect x="64.50" y="-16.50" width="16.80" height="16.80" fill="#c2e264"/>
<rect x="80.70" y="-16.50" width="16.80" height="16.80" fill="#c2e264"/>
<rect x="96.90" y="-16.50" width="16.80" height="16.80" fill="#c2e264"/>
<rect x="-129.90" y="-0.30" width="16.80" height="16.80" fill="#e4ef66"/>
<rect x="-113.70" y="-0.30" width="16.80" height="16.80" fill="#e4ef66"/>
<rect x="-97.50" y="-0.30" width="16.80" height="16.80" fill="#e4ef66"/>
<rect x="-81.30" y="-0.30" width="16.80" height="16.80" fill="#e4ef66"/>
<rect x="-65.10" y="-0.30" width="16.80" height="16.80" fill="#e4ef66"/>
<rect x="-48.90" y="-0.30" width="16.80" height="16.80" fill="#f8e262"/>
<rect x="-32.70" y="-0.30" width="16.80" height="16.80" fill="#f8e262"/>
<rect x="-16.50" y="-0.30" width="16.80" height="16.80" fill="#f6b262"/>
<rect x="-0.30" y="-0.30" width="16.80" height="16.80" fill="#f38a60"/>
<rect x="15.90" y="-0.30" width="16.80" height="16.80" fill="#ef6264"/>
<rect x="32.10" y="-0.30" width="16.80" height="16.80" fill="#e4ef66"/>
<rect x="48.30" y="-0.30" width="16.80" height="16.80" fill="#c2e264"/>
<rect x="64.50" y="-0.30" width="16.80" height="16.80" fill="#c2e264"/>
<rect x="-162.30" y="15.90" width="16.80" height="16.80" fill="#c2e264"/>
<rect x="-129.90" y="15.90" width="16.80" height="16.80" fill="#c2e264"/>
<rect x="-113.70" y="15.90" width="16.80" height="16.80" fill="#e4ef66"/>
<rect x="-97.50" y="15.90" width="16.80" height="16.80" fill="#e4ef66"/>
<rect x="-81.30" y="15.90" width="16.80" height="16.80" fill="#e4ef66"/>
<rect x="-65.10" y="15.90" width="16.80" height="16.80" fill="#e4ef66"/>
<rect x="-48.90" y="15.90" width="16.80" height="16.80" fill="#e4ef66"/>
<rect x="-32.70" y="15.90" width="16.80" height="16.80" fill="#e4ef66"/>
<rect x="-16.50" y="15.90" width="16.80" height="16.80" fill="#f8e262"/>
<rect x="-0.30" y="15.90" width="16.80" height="16.80" fill="#f38a60"/>
<rect x="15.90" y="15.90" width="16.80" height="16.80" fill="#f6b262"/>
<rect x="32.10" y="15.90" width="16.80" height="16.80" fill="#e4ef66"/>
<rect x="48.30" y="15.90" width="16.80" height="16.80" fill="#c2e264"/>
<rect x="-162.30" y="32.10" width="16.80" height="16.80" fill="#c2e264"/>
<rect x="-146.10" y="32.10" width="16.80" height="16.80" fill="#c2e264"/>
<rect x="-129.90" y="32.10" width="16.80" height="16.80" fill="#c2e264"/>
<rect x="-113.70" y="32.10" width="16.80" height="16.80" fill="#c2e264"/>
<rect x="-97.50" y="32.10" width="16.80" height="16.80" fill="#c2e264"/>
<rect x="-81.30" y="32.10" width="16.80" height="16.80" fill="#c2e264"/>
<rect x="-65.10" y="32.10" width="16.80" height="16.80" fill="#c2e264"/>
<rect x="-48.90" y="32.10" width="16.80" height="16.80" fill="#c2e264"/>
<rect x="-32.70" y="32.10" width="16.80" height="16.80" fill="#e4ef66"/>
<rect x="-16.50" y="32.10" width="16.80" height="16.80" fill="#f8e262"/>
<rect x="-0.30" y="32.10" width="16.80" height="16.80" fill="#f6b262"/>
<rect x="15.90" y="32.10" width="16.80" height="16.80" fill="#f8e262"/>
<rect x="32.10" y="32.10" width="16.80" height="16.80" fill="#e4ef66"/>
<rect x="48.30" y="32.10" width="16.80" height="16.80" fill="#c2e264"/>
<rect x="64.50" y="32.10" width="16.80" height="16.80" fill="#c2e264"/>
<rect x="145.50" y="32.10" width="16.80" height="16.80" fill="#82c866"/>
<rect x="-162.30" y="48.30" width="16.80" height="16.80" fill="#c2e264"/>
<rect x="-146.10" y="48.30" width="16.80" height="16.80" fill="#c2e264"/>
<rect x="-129.90" y="48.30" width="16.80" height="16.80" fill="#c2e264"/>
<rect x="-97.50" y="48.30" width="16.80" height="16.80" fill="#c2e264"/>
<rect x="-81.30" y="48.30" width="16.80" height="16.80" fill="#c2e264"/>
<rect x="-65.10" y="48.30" width="16.80" height="16.80" fill="#c2e264"/>
<rect x="-48.90" y="48.30" width="16.80" height="16.80" fill="#c2e264"/>
<rect x="-16.50" y="48.30" width="16.80" height="16.80" fill="#f8e262"/>
<rect x="-0.30" y="48.30" width="16.80" height="16.80" fill="#f8e262"/>
<rect x="15.90" y="48.30" width="16.80" height="16.80" fill="#e4ef66"/>
<rect x="32.10" y="48.30" width="16.80" height="16.80" fill="#e4ef66"/>
<rect x="48.30" y="48.30" width="16.80" height="16.80" fill="#c2e264"/>
<rect x="64.50" y="48.30" width="16.80" height="16.80" fill="#c2e264"/>
<rect x="80.70" y="48.30" width="16.80" height="16.80" fill="#c2e264"/>
<rect x="-129.90" y="64.50" width="16.80" height="16.80" fill="#c2e264"/>
<rect x="-113.70" y="64.50" width="16.80" height="16.80" fill="#c2e264"/>
<rect x="-97.50" y="64.50" width="16.80" height="16.80" fill="#c2e264"/>
<rect x="-81.30" y="64.50" width="16.80" height="16.80" fill="#c2e264"/>
<rect x="-65.10" y="64.50" width="16.80" height="16.80" fill="#c2e264"/>
<rect x="-48.90" y="64.50" width="16.80" height="16.80" fill="#c2e264"/>
<rect x="-32.70" y="64.50" width="16.80" height="16.80" fill="#e4ef66"/>
<rect x="-16.50" y="64.50" width="16.80" height="16.80" fill="#f8e262"/>
<rect x="-0.30" y="64.50" width="16.80" height="16.80" fill="#e4ef66"/>
<rect x="15.90" y="64.50" width="16.80" height="16.80" fill="#e4ef66"/>
<rect x="32.10" y="64.50" width="16.80" height="16.80" fill="#e4ef66"/>
<rect x="48.30" y="64.50" width="16.80" height="16.80" fill="#c2e264"/>
<rect x="64.50" y="64.50" width="16.80" height="16.80" fill="#c2e264"/>
<rect x="80.70" y="64.50" width="16.80" height="16.80" fill="#c2e264"/>
<rect x="96.90" y="64.50" width="16.80" height="16.80" fill="#c2e264"/>
<rect x="-129.90" y="80.70" width="16.80" height="16.80" fill="#c2e264"/>
<rect x="-113.70" y="80.70" width="16.80" height="16.80" fill="#c2e264"/>
<rect x="-97.50" y="80.70" width="16.80" height="16.80" fill="#c2e264"/>
<rect x="-81.30" y="80.70" width="16.80" height="16.80" fill="#c2e264"/>
<rect x="-65.10" y="80.70" width="16.80" height="16.80" fill="#c2e264"/>
<rect x="-48.90" y="80.70" width="16.80" height="16.80" fill="#c2e264"/>
<rect x="-32.70" y="80.70" width="16.80" height="16.80" fill="#e4ef66"/>
<rect x="-16.50" y="80.70" width="16.80" height="16.80" fill="#e4ef66"/>
<rect x="-0.30" y="80.70" width="16.80" height="16.80" fill="#e4ef66"/>
<rect x="32.10" y="80.70" width="16.80" height="16.80" fill="#e4ef66"/>
<rect x="48.30" y="80.70" width="16.80" height="16.80" fill="#c2e264"/>
<rect x="64.50" y="80.70" width="16.80" height="16.80" fill="#c2e264"/>
<rect x="96.90" y="80.70" width="16.80" height="16.80" fill="#c2e264"/>
<rect x="-178.50" y="96.90" width="16.80" height="16.80" fill="#c2e264"/>
<rect x="-162.30" y="96.90" width="16.80" height="16.80" fill="#c2e264"/>
<rect x="-146.10" y="96.90" width="16.80" height="16.80" fill="#c2e264"/>
<rect x="-81.30" y="96.90" width="16.80" height="16.80" fill="#c2e264"/>
<rect x="-65.10" y="96.90" width="16.80" height="16.80" fill="#c2e264"/>
<rect x="-48.90" y="96.90" width="16.80" height="16.80" fill="#c2e264"/>
<rect x="-32.70" y="96.90" width="16.80" height="16.80" fill="#e4ef66"/>
<rect x="-16.50" y="96.90" width="16.80" height="16.80" fill="#e4ef66"/>
<rect x="15.90" y="96.90" width="16.80" height="16.80" fill="#e4ef66"/>
<rect x="32.10" y="96.90" width="16.80" height="16.80" fill="#e4ef66"/>
<rect x="48.30" y="96.90" width="16.80" height="16.80" fill="#c2e264"/>
<rect x="64.50" y="96.90" width="16.80" height="16.80" fill="#c2e264"/>
<rect x="80.70" y="96.90" width="16.80" height="16.80" fill="#c2e264"/>
<rect x="96.90" y="96.90" width="16.80" height="16.80" fill="#c2e264"/>
<rect x="-178.50" y="113.10" width="16.80" height="16.80" fill="#c2e264"/>
<rect x="-162.30" y="113.10" width="16.80" height="16.80" fill="#c2e264"/>
<rect x="-146.10" y="113.10" width="16.80" height="16.80" fill="#c2e264"/>
<rect x="-81.30" y="113.10" width="16.80" height="16.80" fill="#c2e264"/>
<rect x="-65.10" y="113.10" width="16.80" height="16.80" fill="#c2e264"/>
<rect x="-32.70" y="113.10" width="16.80" height="16.80" fill="#e4ef66"/>
<rect x="-16.50" y="113.10" width="16.80" height="16.80" fill="#e4ef66"/>
<rect x="15.90" y="113.10" width="16.80" height="16.80" fill="#e4ef66"/>
<rect x="32.10" y="113.10" width="16.80" height="16.80" fill="#e4ef66"/>
<rect x="48.30" y="113.10" width="16.80" height="16.80" fill="#c2e264"/>
<rect x="64.50" y="113.10" width="16.80" height="16.80" fill="#c2e264"/>
<rect x="80.70" y="113.10" width="16.80" height="16.80" fill="#c2e264"/>
<rect x="96.90" y="113.10" width="16.80" height="16.80" fill="#c2e264"/>
</g><defs><pattern id="htBL" width="2.6" height="2.6" patternUnits="userSpaceOnUse" patternTransform="rotate(45)"><line x1="0" y1="0" x2="0" y2="2.6" stroke="#44602a" stroke-width="0.7" stroke-opacity="0.8"/></pattern></defs>
<polygon points="100.5,1.2 95.5,5.6 89.3,9.3 81.9,11.8 73.8,12.4 74.4,16.1 76.9,22.3 80.6,29.7 83.7,35.9 86.2,40.9 89.9,45.8 93.6,49.6 96.1,55.1 98.6,59.5 101.1,62 102.9,58.2 104.8,52 106.7,45.8 102.9,42.8 99.8,39.7 96.7,42.1 93.6,44.6 91.2,37.2 90.5,32.2 86.8,28.5 85.6,22.3 84.3,16.1 88.1,13.6 93,12.4 96.7,8.7 99.8,3.7 102,1" fill="url(#htBL)" stroke="#4d6b2e" stroke-width="0.6" stroke-opacity="0.8"/>
<polygon points="125,62 129,59 134,60 137.5,64 138,70 135,76 130,78 126,74 124.5,68" fill="url(#htBL)" stroke="#4d6b2e" stroke-width="0.6" stroke-opacity="0.8"/>
<polygon points="100,66.2 102.5,69.4 107.7,70.6 114,70.6 119.1,71.3 122.3,74.5 121.1,80.2 119.1,85.3 117.9,84 115.3,78.9 111.5,77.7 108.9,80.2 107.7,85.3 106.4,78.9 103.2,75.7 100.6,72.5" fill="url(#htBL)" stroke="#4d6b2e" stroke-width="0.6" stroke-opacity="0.8"/>
<polygon points="105,99 110,95 116,97 120,101 118,105 112,106 107,104" fill="url(#htBL)" stroke="#4d6b2e" stroke-width="0.6" stroke-opacity="0.8"/>
<polygon points="0,76 5,74 10,76 13,80 9,84 3,83 0,81" fill="url(#htBL)" stroke="#4d6b2e" stroke-width="0.6" stroke-opacity="0.8"/>
<polygon points="0,96 4,98 6,104 3,108 0,108" fill="url(#htBL)" stroke="#4d6b2e" stroke-width="0.6" stroke-opacity="0.8"/>
<polygon points="255,35 266,35 266,40 262,41 258,49 252,50 251,46 254,41" fill="url(#htBL)" stroke="#4d6b2e" stroke-width="0.6" stroke-opacity="0.8"/>
<polygon points="263,146 270,144 276,150 283,156 282,164 277,168 270,166 266,158 263,152" fill="url(#htBL)" stroke="#4d6b2e" stroke-width="0.6" stroke-opacity="0.8"/>
<polygon points="207,166 214,163 220,161 226,163 224,168 216,169 209,169" fill="url(#htBL)" stroke="#4d6b2e" stroke-width="0.6" stroke-opacity="0.8"/>
<polygon points="161,170 165,167 169,171 168,178 164,181 161,177" fill="url(#htBL)" stroke="#4d6b2e" stroke-width="0.6" stroke-opacity="0.8"/>
<polygon points="113,155 117,152 120,157 119,164 116,168 113,163" fill="url(#htBL)" stroke="#4d6b2e" stroke-width="0.6" stroke-opacity="0.8"/>
<polygon points="3,18 8,16 12,20 10,25 5,26" fill="url(#htBL)" stroke="#4d6b2e" stroke-width="0.6" stroke-opacity="0.8"/>
<polygon points="10.4,123 10.4,77 19.6,63.6 30.4,75 41,49 55,51 65,36 75,42 77.6,59 98.7,66.2 100.6,75.1 113.4,92.3 133.2,99.4 136.4,96.2 132.6,84.7 147.9,80.2 147.9,70 139.6,50.8 115.3,54 109,49 129,36 117,7 123,5.6 144.6,45 156,35.6 165.1,40.2 171.1,49.1 216.4,77.3 210.8,87 224.6,87 246.5,67.1 244,63.5 230.3,60.8 229,49.6 242.1,40.4 254.6,52.2 270.4,56.4 274.6,52.9 280.2,62.7 264.5,77.2 270.4,87 260.3,101.8 239.4,86.5 229.2,92.1 244.5,99.8 246,103.9 262.5,121.2 281.5,130.7 283.6,137.3 288.8,150.4 283.6,155.5 257.4,135.8 253,135.8 253.7,142.4 243.5,146.7 230.4,149.7 212.8,147.5 209.9,153.3 210,160 225,166 230,174 231,188 219,190 209,181 198.5,189 200.7,205.8 193.4,205.8 188.3,191.2 181,191.2 175.2,200.7 169.3,213.1 146,207 127,200.7 118,196 117,190 134,184 131,180 111,178 105,172 114,166 111,160.4 88,162 85,160 98,134 86,122 76,121.6 68,124 58,140 48,140 41,134 54,118 37,116.4 34,127" fill="none" stroke="#2d5214" stroke-width="1.15" stroke-linejoin="miter" stroke-opacity="0.95"/>
<circle cx="166.7" cy="123.1" r="1.5" fill="#000"/>
<text x="169.4" y="121.2" font-family="Liberation Sans" font-weight="bold" font-size="6.5" fill="#111" stroke="#111" stroke-width="0.2">City station</text>
<circle cx="218.7" cy="138.7" r="1.5" fill="#000"/>
<text x="221.1" y="135.9" font-family="Liberation Sans" font-weight="bold" font-size="6.5" fill="#111" stroke="#111" stroke-width="0.2">Park Station</text>
<text x="297.7" y="10.2" font-family="Liberation Serif" font-size="5.5" text-anchor="middle" fill="#111">N</text>
<polygon points="297.7,12.6 302.9,27.3 297.7,23.6 292.5,27.3" fill="#000"/>
<line x1="7.3" y1="204.2" x2="77.4" y2="204.2" stroke="#222" stroke-width="0.8"/>
<line x1="7.3" y1="200.2" x2="7.3" y2="204.2" stroke="#222" stroke-width="0.7"/>
<line x1="16.4" y1="200.6" x2="16.4" y2="204.2" stroke="#222" stroke-width="0.7"/>
<line x1="25.5" y1="200.6" x2="25.5" y2="204.2" stroke="#222" stroke-width="0.7"/>
<line x1="33.9" y1="200.6" x2="33.9" y2="204.2" stroke="#222" stroke-width="0.7"/>
<line x1="42.3" y1="200.6" x2="42.3" y2="204.2" stroke="#222" stroke-width="0.7"/>
<line x1="51.4" y1="200.6" x2="51.4" y2="204.2" stroke="#222" stroke-width="0.7"/>
<line x1="59.9" y1="200.6" x2="59.9" y2="204.2" stroke="#222" stroke-width="0.7"/>
<line x1="68.6" y1="200.6" x2="68.6" y2="204.2" stroke="#222" stroke-width="0.7"/>
<line x1="77.4" y1="200.2" x2="77.4" y2="204.2" stroke="#222" stroke-width="0.7"/>
<text x="7.4" y="196.5" font-family="Liberation Sans" font-weight="bold" font-size="5.5" text-anchor="middle" fill="#222">0</text>
<text x="25.2" y="196.5" font-family="Liberation Sans" font-weight="bold" font-size="5.5" text-anchor="middle" fill="#222">2,25</text>
<text x="42.5" y="196.5" font-family="Liberation Sans" font-weight="bold" font-size="5.5" text-anchor="middle" fill="#222">4,5</text>
<text x="76.2" y="196.5" font-family="Liberation Sans" font-weight="bold" font-size="5.5" fill="#222">9 km</text>
<text x="156" y="204.6" font-family="Liberation Sans" font-size="3.1" fill="#4a5a6a" textLength="143.5" lengthAdjust="spacingAndGlyphs">Sources: Esri, HERE, DeLorme, Intermap, increment P Corp., GEBCO, USGS, FAO, NPS, NRCAN,</text>
<text x="156" y="208.3" font-family="Liberation Sans" font-size="3.1" fill="#4a5a6a" textLength="148.5" lengthAdjust="spacingAndGlyphs">GeoBase, IGN, Kadaster NL, Ordnance Survey, Esri Japan, METI, Esri China (Hong Kong), swisstopo,</text>
<text x="156" y="212.1" font-family="Liberation Sans" font-size="3.1" fill="#4a5a6a" textLength="109" lengthAdjust="spacingAndGlyphs">Mapmyindia, &#169; OpenStreetMap contributors, and the GIS User Community</text><rect x="0.5" y="0.5" width="312" height="213.3" fill="none" stroke="#474747" stroke-width="1"/></svg></div><div class="map" style="left:369.5px;top:252.7px;width:312.5px;height:214.3px"><svg width="312.5" height="214.3" viewBox="0 0 312.5 214.3" style="position:absolute;left:0;top:0"><rect x="0" y="0" width="312.5" height="214.3" fill="#9ad462"/>
<g transform="translate(151.6,108.0) rotate(3.39)">
<rect x="-129.90" y="-129.90" width="16.80" height="16.80" fill="#ecede4"/>
<rect x="-113.70" y="-129.90" width="16.80" height="16.80" fill="#ecede4"/>
<rect x="-97.50" y="-129.90" width="16.80" height="16.80" fill="#ecede4"/>
<rect x="-81.30" y="-129.90" width="16.80" height="16.80" fill="#ecede4"/>
<rect x="-162.30" y="-113.70" width="16.80" height="16.80" fill="#ecede4"/>
<rect x="-113.70" y="-113.70" width="16.80" height="16.80" fill="#ecede4"/>
<rect x="-97.50" y="-113.70" width="16.80" height="16.80" fill="#ecede4"/>
<rect x="-65.10" y="-113.70" width="16.80" height="16.80" fill="#82c866"/>
<rect x="32.10" y="-113.70" width="16.80" height="16.80" fill="#82c866"/>
<rect x="48.30" y="-113.70" width="16.80" height="16.80" fill="#82c866"/>
<rect x="113.10" y="-113.70" width="16.80" height="16.80" fill="#82c866"/>
<rect x="-146.10" y="-97.50" width="16.80" height="16.80" fill="#82c866"/>
<rect x="-129.90" y="-97.50" width="16.80" height="16.80" fill="#82c866"/>
<rect x="-113.70" y="-97.50" width="16.80" height="16.80" fill="#82c866"/>
<rect x="-97.50" y="-97.50" width="16.80" height="16.80" fill="#82c866"/>
<rect x="-81.30" y="-97.50" width="16.80" height="16.80" fill="#ecede4"/>
<rect x="-65.10" y="-97.50" width="16.80" height="16.80" fill="#82c866"/>
<rect x="48.30" y="-97.50" width="16.80" height="16.80" fill="#82c866"/>
<rect x="113.10" y="-97.50" width="16.80" height="16.80" fill="#82c866"/>
<rect x="-113.70" y="-81.30" width="16.80" height="16.80" fill="#82c866"/>
<rect x="-97.50" y="-81.30" width="16.80" height="16.80" fill="#82c866"/>
<rect x="-81.30" y="-81.30" width="16.80" height="16.80" fill="#82c866"/>
<rect x="-65.10" y="-81.30" width="16.80" height="16.80" fill="#ecede4"/>
<rect x="-48.90" y="-81.30" width="16.80" height="16.80" fill="#82c866"/>
<rect x="48.30" y="-81.30" width="16.80" height="16.80" fill="#82c866"/>
<rect x="-65.10" y="-65.10" width="16.80" height="16.80" fill="#82c866"/>
<rect x="-32.70" y="-65.10" width="16.80" height="16.80" fill="#82c866"/>
<rect x="-81.30" y="-48.90" width="16.80" height="16.80" fill="#e4ef66"/>
<rect x="-32.70" y="-48.90" width="16.80" height="16.80" fill="#82c866"/>
<rect x="64.50" y="-48.90" width="16.80" height="16.80" fill="#c2e264"/>
<rect x="-48.90" y="-32.70" width="16.80" height="16.80" fill="#e4ef66"/>
<rect x="-32.70" y="-32.70" width="16.80" height="16.80" fill="#c2e264"/>
<rect x="64.50" y="-32.70" width="16.80" height="16.80" fill="#c2e264"/>
<rect x="80.70" y="-32.70" width="16.80" height="16.80" fill="#c2e264"/>
<rect x="96.90" y="-32.70" width="16.80" height="16.80" fill="#c2e264"/>
<rect x="145.50" y="-32.70" width="16.80" height="16.80" fill="#82c866"/>
<rect x="161.70" y="-32.70" width="16.80" height="16.80" fill="#82c866"/>
<rect x="-0.30" y="-16.50" width="16.80" height="16.80" fill="#c2e264"/>
<rect x="15.90" y="-16.50" width="16.80" height="16.80" fill="#c2e264"/>
<rect x="48.30" y="-16.50" width="16.80" height="16.80" fill="#c2e264"/>
<rect x="64.50" y="-16.50" width="16.80" height="16.80" fill="#c2e264"/>
<rect x="80.70" y="-16.50" width="16.80" height="16.80" fill="#c2e264"/>
<rect x="96.90" y="-16.50" width="16.80" height="16.80" fill="#c2e264"/>
<rect x="145.50" y="-16.50" width="16.80" height="16.80" fill="#82c866"/>
<rect x="161.70" y="-16.50" width="16.80" height="16.80" fill="#82c866"/>
<rect x="-178.50" y="-0.30" width="16.80" height="16.80" fill="#c2e264"/>
<rect x="-162.30" y="-0.30" width="16.80" height="16.80" fill="#c2e264"/>
<rect x="-146.10" y="-0.30" width="16.80" height="16.80" fill="#c2e264"/>
<rect x="-129.90" y="-0.30" width="16.80" height="16.80" fill="#c2e264"/>
<rect x="-113.70" y="-0.30" width="16.80" height="16.80" fill="#c2e264"/>
<rect x="-97.50" y="-0.30" width="16.80" height="16.80" fill="#c2e264"/>
<rect x="-81.30" y="-0.30" width="16.80" height="16.80" fill="#c2e264"/>
<rect x="-65.10" y="-0.30" width="16.80" height="16.80" fill="#c2e264"/>
<rect x="-48.90" y="-0.30" width="16.80" height="16.80" fill="#c2e264"/>
<rect x="-32.70" y="-0.30" width="16.80" height="16.80" fill="#c2e264"/>
<rect x="-16.50" y="-0.30" width="16.80" height="16.80" fill="#e4ef66"/>
<rect x="-0.30" y="-0.30" width="16.80" height="16.80" fill="#e4ef66"/>
<rect x="15.90" y="-0.30" width="16.80" height="16.80" fill="#e4ef66"/>
<rect x="32.10" y="-0.30" width="16.80" height="16.80" fill="#e4ef66"/>
<rect x="48.30" y="-0.30" width="16.80" height="16.80" fill="#e4ef66"/>
<rect x="64.50" y="-0.30" width="16.80" height="16.80" fill="#e4ef66"/>
<rect x="80.70" y="-0.30" width="16.80" height="16.80" fill="#c2e264"/>
<rect x="-162.30" y="15.90" width="16.80" height="16.80" fill="#c2e264"/>
<rect x="-146.10" y="15.90" width="16.80" height="16.80" fill="#c2e264"/>
<rect x="-129.90" y="15.90" width="16.80" height="16.80" fill="#e4ef66"/>
<rect x="-113.70" y="15.90" width="16.80" height="16.80" fill="#e4ef66"/>
<rect x="-97.50" y="15.90" width="16.80" height="16.80" fill="#e4ef66"/>
<rect x="-81.30" y="15.90" width="16.80" height="16.80" fill="#e4ef66"/>
<rect x="-65.10" y="15.90" width="16.80" height="16.80" fill="#e4ef66"/>
<rect x="-48.90" y="15.90" width="16.80" height="16.80" fill="#e4ef66"/>
<rect x="-32.70" y="15.90" width="16.80" height="16.80" fill="#f7cc62"/>
<rect x="-16.50" y="15.90" width="16.80" height="16.80" fill="#f7cc62"/>
<rect x="-0.30" y="15.90" width="16.80" height="16.80" fill="#f8e262"/>
<rect x="15.90" y="15.90" width="16.80" height="16.80" fill="#f6b262"/>
<rect x="32.10" y="15.90" width="16.80" height="16.80" fill="#f38a60"/>
<rect x="48.30" y="15.90" width="16.80" height="16.80" fill="#f38a60"/>
<rect x="64.50" y="15.90" width="16.80" height="16.80" fill="#ef6264"/>
<rect x="80.70" y="15.90" width="16.80" height="16.80" fill="#c2e264"/>
<rect x="145.50" y="15.90" width="16.80" height="16.80" fill="#82c866"/>
<rect x="161.70" y="15.90" width="16.80" height="16.80" fill="#82c866"/>
<rect x="-162.30" y="32.10" width="16.80" height="16.80" fill="#c2e264"/>
<rect x="-146.10" y="32.10" width="16.80" height="16.80" fill="#c2e264"/>
<rect x="-129.90" y="32.10" width="16.80" height="16.80" fill="#c2e264"/>
<rect x="-97.50" y="32.10" width="16.80" height="16.80" fill="#c2e264"/>
<rect x="-81.30" y="32.10" width="16.80" height="16.80" fill="#c2e264"/>
<rect x="-65.10" y="32.10" width="16.80" height="16.80" fill="#e4ef66"/>
<rect x="-48.90" y="32.10" width="16.80" height="16.80" fill="#e4ef66"/>
<rect x="-32.70" y="32.10" width="16.80" height="16.80" fill="#e4ef66"/>
<rect x="-16.50" y="32.10" width="16.80" height="16.80" fill="#e4ef66"/>
<rect x="-0.30" y="32.10" width="16.80" height="16.80" fill="#f8e262"/>
<rect x="15.90" y="32.10" width="16.80" height="16.80" fill="#f8e262"/>
<rect x="32.10" y="32.10" width="16.80" height="16.80" fill="#f8e262"/>
<rect x="48.30" y="32.10" width="16.80" height="16.80" fill="#f38a60"/>
<rect x="64.50" y="32.10" width="16.80" height="16.80" fill="#f38a60"/>
<rect x="80.70" y="32.10" width="16.80" height="16.80" fill="#c2e264"/>
<rect x="96.90" y="32.10" width="16.80" height="16.80" fill="#c2e264"/>
<rect x="113.10" y="32.10" width="16.80" height="16.80" fill="#c2e264"/>
<rect x="145.50" y="32.10" width="16.80" height="16.80" fill="#82c866"/>
<rect x="161.70" y="32.10" width="16.80" height="16.80" fill="#82c866"/>
<rect x="-162.30" y="48.30" width="16.80" height="16.80" fill="#c2e264"/>
<rect x="-146.10" y="48.30" width="16.80" height="16.80" fill="#c2e264"/>
<rect x="-129.90" y="48.30" width="16.80" height="16.80" fill="#c2e264"/>
<rect x="-113.70" y="48.30" width="16.80" height="16.80" fill="#e4ef66"/>
<rect x="-97.50" y="48.30" width="16.80" height="16.80" fill="#e4ef66"/>
<rect x="-81.30" y="48.30" width="16.80" height="16.80" fill="#e4ef66"/>
<rect x="-65.10" y="48.30" width="16.80" height="16.80" fill="#e4ef66"/>
<rect x="-48.90" y="48.30" width="16.80" height="16.80" fill="#e4ef66"/>
<rect x="-0.30" y="48.30" width="16.80" height="16.80" fill="#e4ef66"/>
<rect x="15.90" y="48.30" width="16.80" height="16.80" fill="#e4ef66"/>
<rect x="32.10" y="48.30" width="16.80" height="16.80" fill="#f8e262"/>
<rect x="48.30" y="48.30" width="16.80" height="16.80" fill="#f6b262"/>
<rect x="64.50" y="48.30" width="16.80" height="16.80" fill="#f8e262"/>
<rect x="80.70" y="48.30" width="16.80" height="16.80" fill="#e4ef66"/>
<rect x="96.90" y="48.30" width="16.80" height="16.80" fill="#e4ef66"/>
<rect x="113.10" y="48.30" width="16.80" height="16.80" fill="#c2e264"/>
<rect x="-178.50" y="64.50" width="16.80" height="16.80" fill="#c2e264"/>
<rect x="-162.30" y="64.50" width="16.80" height="16.80" fill="#c2e264"/>
<rect x="-146.10" y="64.50" width="16.80" height="16.80" fill="#c2e264"/>
<rect x="-129.90" y="64.50" width="16.80" height="16.80" fill="#c2e264"/>
<rect x="-113.70" y="64.50" width="16.80" height="16.80" fill="#c2e264"/>
<rect x="-97.50" y="64.50" width="16.80" height="16.80" fill="#c2e264"/>
<rect x="-81.30" y="64.50" width="16.80" height="16.80" fill="#c2e264"/>
<rect x="-65.10" y="64.50" width="16.80" height="16.80" fill="#c2e264"/>
<rect x="-48.90" y="64.50" width="16.80" height="16.80" fill="#c2e264"/>
<rect x="-32.70" y="64.50" width="16.80" height="16.80" fill="#c2e264"/>
<rect x="-16.50" y="64.50" width="16.80" height="16.80" fill="#e4ef66"/>
<rect x="-0.30" y="64.50" width="16.80" height="16.80" fill="#e4ef66"/>
<rect x="15.90" y="64.50" width="16.80" height="16.80" fill="#e4ef66"/>
<rect x="32.10" y="64.50" width="16.80" height="16.80" fill="#f8e262"/>
<rect x="48.30" y="64.50" width="16.80" height="16.80" fill="#f8e262"/>
<rect x="64.50" y="64.50" width="16.80" height="16.80" fill="#e4ef66"/>
<rect x="80.70" y="64.50" width="16.80" height="16.80" fill="#c2e264"/>
<rect x="96.90" y="64.50" width="16.80" height="16.80" fill="#c2e264"/>
<rect x="113.10" y="64.50" width="16.80" height="16.80" fill="#c2e264"/>
<rect x="129.30" y="64.50" width="16.80" height="16.80" fill="#c2e264"/>
<rect x="-81.30" y="80.70" width="16.80" height="16.80" fill="#c2e264"/>
<rect x="-65.10" y="80.70" width="16.80" height="16.80" fill="#c2e264"/>
<rect x="-48.90" y="80.70" width="16.80" height="16.80" fill="#c2e264"/>
<rect x="-32.70" y="80.70" width="16.80" height="16.80" fill="#c2e264"/>
<rect x="-16.50" y="80.70" width="16.80" height="16.80" fill="#c2e264"/>
<rect x="-0.30" y="80.70" width="16.80" height="16.80" fill="#e4ef66"/>
<rect x="15.90" y="80.70" width="16.80" height="16.80" fill="#e4ef66"/>
<rect x="32.10" y="80.70" width="16.80" height="16.80" fill="#f8e262"/>
<rect x="48.30" y="80.70" width="16.80" height="16.80" fill="#e4ef66"/>
<rect x="64.50" y="80.70" width="16.80" height="16.80" fill="#e4ef66"/>
<rect x="96.90" y="80.70" width="16.80" height="16.80" fill="#c2e264"/>
<rect x="113.10" y="80.70" width="16.80" height="16.80" fill="#c2e264"/>
<rect x="-97.50" y="96.90" width="16.80" height="16.80" fill="#c2e264"/>
<rect x="-81.30" y="96.90" width="16.80" height="16.80" fill="#c2e264"/>
<rect x="-65.10" y="96.90" width="16.80" height="16.80" fill="#c2e264"/>
<rect x="-48.90" y="96.90" width="16.80" height="16.80" fill="#c2e264"/>
<rect x="-32.70" y="96.90" width="16.80" height="16.80" fill="#c2e264"/>
<rect x="-16.50" y="96.90" width="16.80" height="16.80" fill="#c2e264"/>
<rect x="-0.30" y="96.90" width="16.80" height="16.80" fill="#c2e264"/>
<rect x="15.90" y="96.90" width="16.80" height="16.80" fill="#e4ef66"/>
<rect x="32.10" y="96.90" width="16.80" height="16.80" fill="#e4ef66"/>
<rect x="48.30" y="96.90" width="16.80" height="16.80" fill="#e4ef66"/>
<rect x="64.50" y="96.90" width="16.80" height="16.80" fill="#c2e264"/>
<rect x="80.70" y="96.90" width="16.80" height="16.80" fill="#c2e264"/>
<rect x="96.90" y="96.90" width="16.80" height="16.80" fill="#c2e264"/>
<rect x="113.10" y="96.90" width="16.80" height="16.80" fill="#c2e264"/>
<rect x="129.30" y="96.90" width="16.80" height="16.80" fill="#c2e264"/>
<rect x="-97.50" y="113.10" width="16.80" height="16.80" fill="#c2e264"/>
<rect x="-81.30" y="113.10" width="16.80" height="16.80" fill="#c2e264"/>
<rect x="-65.10" y="113.10" width="16.80" height="16.80" fill="#c2e264"/>
<rect x="-48.90" y="113.10" width="16.80" height="16.80" fill="#c2e264"/>
<rect x="-32.70" y="113.10" width="16.80" height="16.80" fill="#c2e264"/>
<rect x="-16.50" y="113.10" width="16.80" height="16.80" fill="#c2e264"/>
<rect x="-0.30" y="113.10" width="16.80" height="16.80" fill="#c2e264"/>
<rect x="15.90" y="113.10" width="16.80" height="16.80" fill="#e4ef66"/>
<rect x="32.10" y="113.10" width="16.80" height="16.80" fill="#e4ef66"/>
<rect x="48.30" y="113.10" width="16.80" height="16.80" fill="#e4ef66"/>
<rect x="64.50" y="113.10" width="16.80" height="16.80" fill="#c2e264"/>
<rect x="80.70" y="113.10" width="16.80" height="16.80" fill="#c2e264"/>
<rect x="96.90" y="113.10" width="16.80" height="16.80" fill="#c2e264"/>
<rect x="113.10" y="113.10" width="16.80" height="16.80" fill="#c2e264"/>
<rect x="129.30" y="113.10" width="16.80" height="16.80" fill="#c2e264"/>
</g><defs><pattern id="htBR" width="2.6" height="2.6" patternUnits="userSpaceOnUse" patternTransform="rotate(45)"><line x1="0" y1="0" x2="0" y2="2.6" stroke="#44602a" stroke-width="0.7" stroke-opacity="0.8"/></pattern></defs>
<polygon points="100.5,1.2 95.5,5.6 89.3,9.3 81.9,11.8 73.8,12.4 74.4,16.1 76.9,22.3 80.6,29.7 83.7,35.9 86.2,40.9 89.9,45.8 93.6,49.6 96.1,55.1 98.6,59.5 101.1,62 102.9,58.2 104.8,52 106.7,45.8 102.9,42.8 99.8,39.7 96.7,42.1 93.6,44.6 91.2,37.2 90.5,32.2 86.8,28.5 85.6,22.3 84.3,16.1 88.1,13.6 93,12.4 96.7,8.7 99.8,3.7 102,1" fill="url(#htBR)" stroke="#4d6b2e" stroke-width="0.6" stroke-opacity="0.8"/>
<polygon points="125,62 129,59 134,60 137.5,64 138,70 135,76 130,78 126,74 124.5,68" fill="url(#htBR)" stroke="#4d6b2e" stroke-width="0.6" stroke-opacity="0.8"/>
<polygon points="100,66.2 102.5,69.4 107.7,70.6 114,70.6 119.1,71.3 122.3,74.5 121.1,80.2 119.1,85.3 117.9,84 115.3,78.9 111.5,77.7 108.9,80.2 107.7,85.3 106.4,78.9 103.2,75.7 100.6,72.5" fill="url(#htBR)" stroke="#4d6b2e" stroke-width="0.6" stroke-opacity="0.8"/>
<polygon points="105,99 110,95 116,97 120,101 118,105 112,106 107,104" fill="url(#htBR)" stroke="#4d6b2e" stroke-width="0.6" stroke-opacity="0.8"/>
<polygon points="0,76 5,74 10,76 13,80 9,84 3,83 0,81" fill="url(#htBR)" stroke="#4d6b2e" stroke-width="0.6" stroke-opacity="0.8"/>
<polygon points="0,96 4,98 6,104 3,108 0,108" fill="url(#htBR)" stroke="#4d6b2e" stroke-width="0.6" stroke-opacity="0.8"/>
<polygon points="255,35 266,35 266,40 262,41 258,49 252,50 251,46 254,41" fill="url(#htBR)" stroke="#4d6b2e" stroke-width="0.6" stroke-opacity="0.8"/>
<polygon points="263,146 270,144 276,150 283,156 282,164 277,168 270,166 266,158 263,152" fill="url(#htBR)" stroke="#4d6b2e" stroke-width="0.6" stroke-opacity="0.8"/>
<polygon points="207,166 214,163 220,161 226,163 224,168 216,169 209,169" fill="url(#htBR)" stroke="#4d6b2e" stroke-width="0.6" stroke-opacity="0.8"/>
<polygon points="161,170 165,167 169,171 168,178 164,181 161,177" fill="url(#htBR)" stroke="#4d6b2e" stroke-width="0.6" stroke-opacity="0.8"/>
<polygon points="113,155 117,152 120,157 119,164 116,168 113,163" fill="url(#htBR)" stroke="#4d6b2e" stroke-width="0.6" stroke-opacity="0.8"/>
<polygon points="3,18 8,16 12,20 10,25 5,26" fill="url(#htBR)" stroke="#4d6b2e" stroke-width="0.6" stroke-opacity="0.8"/>
<polygon points="10.4,123 10.4,77 19.6,63.6 30.4,75 41,49 55,51 65,36 75,42 77.6,59 98.7,66.2 100.6,75.1 113.4,92.3 133.2,99.4 136.4,96.2 132.6,84.7 147.9,80.2 147.9,70 139.6,50.8 115.3,54 109,49 129,36 117,7 123,5.6 144.6,45 156,35.6 165.1,40.2 171.1,49.1 216.4,77.3 210.8,87 224.6,87 246.5,67.1 244,63.5 230.3,60.8 229,49.6 242.1,40.4 254.6,52.2 270.4,56.4 274.6,52.9 280.2,62.7 264.5,77.2 270.4,87 260.3,101.8 239.4,86.5 229.2,92.1 244.5,99.8 246,103.9 262.5,121.2 281.5,130.7 283.6,137.3 288.8,150.4 283.6,155.5 257.4,135.8 253,135.8 253.7,142.4 243.5,146.7 230.4,149.7 212.8,147.5 209.9,153.3 210,160 225,166 230,174 231,188 219,190 209,181 198.5,189 200.7,205.8 193.4,205.8 188.3,191.2 181,191.2 175.2,200.7 169.3,213.1 146,207 127,200.7 118,196 117,190 134,184 131,180 111,178 105,172 114,166 111,160.4 88,162 85,160 98,134 86,122 76,121.6 68,124 58,140 48,140 41,134 54,118 37,116.4 34,127" fill="none" stroke="#2d5214" stroke-width="1.15" stroke-linejoin="miter" stroke-opacity="0.95"/>
<circle cx="166.7" cy="123.1" r="1.5" fill="#000"/>
<text x="169.4" y="121.2" font-family="Liberation Sans" font-weight="bold" font-size="6.5" fill="#111" stroke="#111" stroke-width="0.2">City station</text>
<circle cx="218.7" cy="138.7" r="1.5" fill="#000"/>
<text x="221.1" y="135.9" font-family="Liberation Sans" font-weight="bold" font-size="6.5" fill="#111" stroke="#111" stroke-width="0.2">Park Station</text>
<text x="297.7" y="10.2" font-family="Liberation Serif" font-size="5.5" text-anchor="middle" fill="#111">N</text>
<polygon points="297.7,12.6 302.9,27.3 297.7,23.6 292.5,27.3" fill="#000"/>
<line x1="7.3" y1="204.2" x2="77.4" y2="204.2" stroke="#222" stroke-width="0.8"/>
<line x1="7.3" y1="200.2" x2="7.3" y2="204.2" stroke="#222" stroke-width="0.7"/>
<line x1="16.4" y1="200.6" x2="16.4" y2="204.2" stroke="#222" stroke-width="0.7"/>
<line x1="25.5" y1="200.6" x2="25.5" y2="204.2" stroke="#222" stroke-width="0.7"/>
<line x1="33.9" y1="200.6" x2="33.9" y2="204.2" stroke="#222" stroke-width="0.7"/>
<line x1="42.3" y1="200.6" x2="42.3" y2="204.2" stroke="#222" stroke-width="0.7"/>
<line x1="51.4" y1="200.6" x2="51.4" y2="204.2" stroke="#222" stroke-width="0.7"/>
<line x1="59.9" y1="200.6" x2="59.9" y2="204.2" stroke="#222" stroke-width="0.7"/>
<line x1="68.6" y1="200.6" x2="68.6" y2="204.2" stroke="#222" stroke-width="0.7"/>
<line x1="77.4" y1="200.2" x2="77.4" y2="204.2" stroke="#222" stroke-width="0.7"/>
<text x="7.4" y="196.5" font-family="Liberation Sans" font-weight="bold" font-size="5.5" text-anchor="middle" fill="#222">0</text>
<text x="25.2" y="196.5" font-family="Liberation Sans" font-weight="bold" font-size="5.5" text-anchor="middle" fill="#222">2,25</text>
<text x="42.5" y="196.5" font-family="Liberation Sans" font-weight="bold" font-size="5.5" text-anchor="middle" fill="#222">4,5</text>
<text x="76.2" y="196.5" font-family="Liberation Sans" font-weight="bold" font-size="5.5" fill="#222">9 km</text>
<text x="156" y="204.6" font-family="Liberation Sans" font-size="3.1" fill="#4a5a6a" textLength="143.5" lengthAdjust="spacingAndGlyphs">Sources: Esri, HERE, DeLorme, Intermap, increment P Corp., GEBCO, USGS, FAO, NPS, NRCAN,</text>
<text x="156" y="208.3" font-family="Liberation Sans" font-size="3.1" fill="#4a5a6a" textLength="148.5" lengthAdjust="spacingAndGlyphs">GeoBase, IGN, Kadaster NL, Ordnance Survey, Esri Japan, METI, Esri China (Hong Kong), swisstopo,</text>
<text x="156" y="212.1" font-family="Liberation Sans" font-size="3.1" fill="#4a5a6a" textLength="109" lengthAdjust="spacingAndGlyphs">Mapmyindia, &#169; OpenStreetMap contributors, and the GIS User Community</text><rect x="0.5" y="0.5" width="311.5" height="213.3" fill="none" stroke="#474747" stroke-width="1"/></svg></div>
<div class="tk" style="left:92.6px;top:6px;width:1px;height:2px"></div>
<div class="tk" style="left:92.6px;top:223px;width:1px;height:2px"></div>
<div class="tl" style="left:63.1px;top:-1.2px;width:60px;text-align:center;transform:scaleX(0.86)">16°55'E</div>
<div class="tk" style="left:164.8px;top:6px;width:1px;height:2px"></div>
<div class="tk" style="left:164.8px;top:223px;width:1px;height:2px"></div>
<div class="tl" style="left:135.3px;top:-1.2px;width:60px;text-align:center;transform:scaleX(0.86)">17°E</div>
<div class="tk" style="left:237.0px;top:6px;width:1px;height:2px"></div>
<div class="tk" style="left:237.0px;top:223px;width:1px;height:2px"></div>
<div class="tl" style="left:207.5px;top:-1.2px;width:60px;text-align:center;transform:scaleX(0.86)">17°5'E</div>
<div class="tk" style="left:309.2px;top:6px;width:1px;height:2px"></div>
<div class="tk" style="left:309.2px;top:223px;width:1px;height:2px"></div>
<div class="tl" style="left:279.7px;top:-1.2px;width:60px;text-align:center;transform:scaleX(0.86)">17°10'E</div>
<div class="tk" style="left:21px;top:61.1px;width:2px;height:1px"></div>
<div class="tk" style="left:336px;top:61.1px;width:2px;height:1px"></div>
<div class="tl" style="left:-39.5px;top:57.6px;width:60px;text-align:right;transform:scaleX(0.86);transform-origin:100% 50%">51°10'N</div>
<div class="tk" style="left:21px;top:176.1px;width:2px;height:1px"></div>
<div class="tk" style="left:336px;top:176.1px;width:2px;height:1px"></div>
<div class="tl" style="left:-39.5px;top:172.6px;width:60px;text-align:right;transform:scaleX(0.86);transform-origin:100% 50%">51°5'N</div><div class="tk" style="left:439.1px;top:6px;width:1px;height:2px"></div>
<div class="tk" style="left:439.1px;top:223px;width:1px;height:2px"></div>
<div class="tl" style="left:409.6px;top:-1.2px;width:60px;text-align:center;transform:scaleX(0.86)">16°55'E</div>
<div class="tk" style="left:511.3px;top:6px;width:1px;height:2px"></div>
<div class="tk" style="left:511.3px;top:223px;width:1px;height:2px"></div>
<div class="tl" style="left:481.8px;top:-1.2px;width:60px;text-align:center;transform:scaleX(0.86)">17°E</div>
<div class="tk" style="left:583.5px;top:6px;width:1px;height:2px"></div>
<div class="tk" style="left:583.5px;top:223px;width:1px;height:2px"></div>
<div class="tl" style="left:554.0px;top:-1.2px;width:60px;text-align:center;transform:scaleX(0.86)">17°5'E</div>
<div class="tk" style="left:655.7px;top:6px;width:1px;height:2px"></div>
<div class="tk" style="left:655.7px;top:223px;width:1px;height:2px"></div>
<div class="tl" style="left:626.2px;top:-1.2px;width:60px;text-align:center;transform:scaleX(0.86)">17°10'E</div>
<div class="tk" style="left:367.5px;top:61.1px;width:2px;height:1px"></div>
<div class="tk" style="left:682.0px;top:61.1px;width:2px;height:1px"></div>
<div class="tl" style="left:307.0px;top:57.6px;width:60px;text-align:right;transform:scaleX(0.86);transform-origin:100% 50%">51°10'N</div>
<div class="tk" style="left:367.5px;top:176.1px;width:2px;height:1px"></div>
<div class="tk" style="left:682.0px;top:176.1px;width:2px;height:1px"></div>
<div class="tl" style="left:307.0px;top:172.6px;width:60px;text-align:right;transform:scaleX(0.86);transform-origin:100% 50%">51°5'N</div><div class="tk" style="left:92.6px;top:250.7px;width:1px;height:2px"></div>
<div class="tk" style="left:92.6px;top:467.0px;width:1px;height:2px"></div>
<div class="tl" style="left:63.1px;top:243.5px;width:60px;text-align:center;transform:scaleX(0.86)">16°55'E</div>
<div class="tk" style="left:164.8px;top:250.7px;width:1px;height:2px"></div>
<div class="tk" style="left:164.8px;top:467.0px;width:1px;height:2px"></div>
<div class="tl" style="left:135.3px;top:243.5px;width:60px;text-align:center;transform:scaleX(0.86)">17°E</div>
<div class="tk" style="left:237.0px;top:250.7px;width:1px;height:2px"></div>
<div class="tk" style="left:237.0px;top:467.0px;width:1px;height:2px"></div>
<div class="tl" style="left:207.5px;top:243.5px;width:60px;text-align:center;transform:scaleX(0.86)">17°5'E</div>
<div class="tk" style="left:309.2px;top:250.7px;width:1px;height:2px"></div>
<div class="tk" style="left:309.2px;top:467.0px;width:1px;height:2px"></div>
<div class="tl" style="left:279.7px;top:243.5px;width:60px;text-align:center;transform:scaleX(0.86)">17°10'E</div>
<div class="tk" style="left:21px;top:305.8px;width:2px;height:1px"></div>
<div class="tk" style="left:336px;top:305.8px;width:2px;height:1px"></div>
<div class="tl" style="left:-39.5px;top:302.3px;width:60px;text-align:right;transform:scaleX(0.86);transform-origin:100% 50%">51°10'N</div>
<div class="tk" style="left:21px;top:420.8px;width:2px;height:1px"></div>
<div class="tk" style="left:336px;top:420.8px;width:2px;height:1px"></div>
<div class="tl" style="left:-39.5px;top:417.3px;width:60px;text-align:right;transform:scaleX(0.86);transform-origin:100% 50%">51°5'N</div><div class="tk" style="left:439.1px;top:250.7px;width:1px;height:2px"></div>
<div class="tk" style="left:439.1px;top:467.0px;width:1px;height:2px"></div>
<div class="tl" style="left:409.6px;top:243.5px;width:60px;text-align:center;transform:scaleX(0.86)">16°55'E</div>
<div class="tk" style="left:511.3px;top:250.7px;width:1px;height:2px"></div>
<div class="tk" style="left:511.3px;top:467.0px;width:1px;height:2px"></div>
<div class="tl" style="left:481.8px;top:243.5px;width:60px;text-align:center;transform:scaleX(0.86)">17°E</div>
<div class="tk" style="left:583.5px;top:250.7px;width:1px;height:2px"></div>
<div class="tk" style="left:583.5px;top:467.0px;width:1px;height:2px"></div>
<div class="tl" style="left:554.0px;top:243.5px;width:60px;text-align:center;transform:scaleX(0.86)">17°5'E</div>
<div class="tk" style="left:655.7px;top:250.7px;width:1px;height:2px"></div>
<div class="tk" style="left:655.7px;top:467.0px;width:1px;height:2px"></div>
<div class="tl" style="left:626.2px;top:243.5px;width:60px;text-align:center;transform:scaleX(0.86)">17°10'E</div>
<div class="tk" style="left:367.5px;top:305.8px;width:2px;height:1px"></div>
<div class="tk" style="left:682.0px;top:305.8px;width:2px;height:1px"></div>
<div class="tl" style="left:307.0px;top:302.3px;width:60px;text-align:right;transform:scaleX(0.86);transform-origin:100% 50%">51°10'N</div>
<div class="tk" style="left:367.5px;top:420.8px;width:2px;height:1px"></div>
<div class="tk" style="left:682.0px;top:420.8px;width:2px;height:1px"></div>
<div class="tl" style="left:307.0px;top:417.3px;width:60px;text-align:right;transform:scaleX(0.86);transform-origin:100% 50%">51°5'N</div>
<div class="lt" style="left:58.5px;top:478.5px;font-size:14.2px">The number of trajectories frequency in each grid cell.</div>
<div class="sw" style="left:57px;top:504px;background:#76c25f"></div>
<div class="lx" style="left:88px;top:503.2px"><0,006</div>
<div class="sw" style="left:57px;top:525px;background:#9cd562"></div>
<div class="lx" style="left:88px;top:524.2px">0,007 - 0,026</div>
<div class="sw" style="left:177px;top:504px;background:#c0e467"></div>
<div class="lx" style="left:208.5px;top:503.2px">0,027 - 0,058</div>
<div class="sw" style="left:177px;top:525px;background:#e8f26a"></div>
<div class="lx" style="left:208.5px;top:524.2px">0,059 - 0,109</div>
<div class="sw" style="left:297.5px;top:504px;background:#fde665"></div>
<div class="lx" style="left:328px;top:503.2px">0,110 - 0,179</div>
<div class="sw" style="left:297.5px;top:525px;background:#fbb463"></div>
<div class="lx" style="left:328px;top:524.2px">0,180 - 0,276</div>
<div class="sw" style="left:417px;top:504px;background:#f98e5f"></div>
<div class="lx" style="left:448.5px;top:503.2px">0,277 - 0,999</div>
<div class="sw" style="left:417px;top:525px;background:#f0625f"></div>
<div class="lx" style="left:448.5px;top:524.2px">1</div>
<div class="lt" style="left:552.3px;top:478.5px;font-size:13.9px">Landcover</div>
<svg style="position:absolute;left:553px;top:504px" width="28" height="14"><defs><pattern id="hl" width="2.4" height="2.4" patternUnits="userSpaceOnUse" patternTransform="rotate(45)"><line x1="0" y1="0" x2="0" y2="2.4" stroke="#aaa" stroke-width="0.7"/></pattern></defs><rect x="0.5" y="0.5" width="26" height="12.5" fill="url(#hl)" stroke="#999" stroke-width="1"/></svg>
<div class="lx" style="left:584.5px;top:502.5px;font-style:italic;font-size:13.4px">Corylus</div>
</body></html>
